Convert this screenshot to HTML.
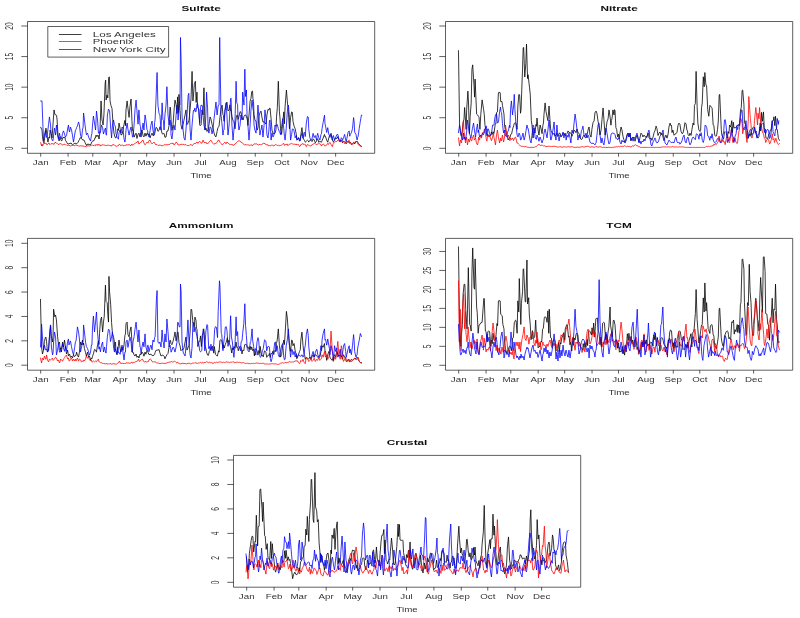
<!DOCTYPE html><html><head><meta charset="utf-8"><style>html,body{margin:0;padding:0;background:#fff;}svg{display:block;}text{font-family:"Liberation Sans",sans-serif;}</style></head><body>
<svg width="800" height="618" viewBox="0 0 800 618">
<rect width="800" height="618" fill="#fff"/>
<defs><filter id="bl" x="0" y="0" width="800" height="618" filterUnits="userSpaceOnUse"><feGaussianBlur stdDeviation="0.3"/></filter></defs>
<g filter="url(#bl)">
<g transform="scale(0.75 0.5)" fill="none" stroke-linejoin="round" stroke-linecap="round">
<path d="M54.25 254.4 L56 260.08 L56.62 272.31 L57.46 281.96 L58.63 285.9 L60.09 270.15 L61.25 256.15 L62.71 270.15 L63.88 284.15 L65.34 274.08 L66.04 276.13 L66.79 260.08 L67.96 266.21 L69.42 275.83 L70.59 250.02 L72.04 219.83 L73.21 229.06 L74.67 229.89 L75.46 230.89 L76.13 239.96 L77.3 270.15 L78.75 281.96 L79.92 274.08 L81.38 280.96 L82.55 281.42 L84 274.66 L85.46 275.34 L86.63 274.08 L87.23 280.74 L88.09 282.17 L89.25 285.68 L90.71 288.39 L91.88 287.21 L93.34 287.13 L94.8 285.9 L95.96 288.69 L96.65 289.38 L97.42 288.47 L98.59 287.85 L100.05 285.9 L101.21 287.61 L102.67 287.2 L104.13 284.42 L105.3 280.71 L106.07 279.02 L106.76 275.48 L107.92 275.83 L109.38 279.02 L110.55 279.64 L112.01 280.05 L113.47 285.26 L114.63 288.93 L115.49 291.28 L116.09 288.09 L117.26 289.05 L118.72 288.09 L119.88 290.2 L121.34 287.94 L122.8 282.93 L123.97 281.75 L125.42 281.25 L126.59 275.76 L127.26 275.97 L128.05 270.15 L129.22 273.38 L130.68 270.15 L132.13 278.02 L133.3 260.08 L134.76 201.89 L135.93 239.96 L136.68 243.64 L137.38 250.02 L138.55 229.89 L140.21 166.29 L140.88 160.32 L141.47 200.14 L142.63 190.17 L143.74 195.9 L144.92 154.76 L145.84 153.76 L146.72 201.88 L147.89 210.77 L149.34 217.02 L150.8 249.02 L151.97 266.27 L153.43 274.97 L154.59 275.99 L156.05 268.39 L157.22 257.58 L157.87 260.89 L158.68 246.08 L160.14 256.87 L161.3 269.97 L162.76 268.99 L163.93 260.89 L165.39 248.46 L166.55 240.75 L167.29 251.39 L168.01 219.98 L169.47 201.89 L170.64 216.95 L172.1 234.83 L173.26 213.55 L174.72 197.95 L175.89 240.59 L176.71 260.8 L177.35 260 L178.8 274.21 L179.97 269.92 L181.43 266.21 L182.6 276.85 L184.06 268.92 L185.22 266.21 L186.68 273.75 L187.31 267.21 L188.14 265.87 L189.31 260.08 L190.76 271.25 L191.93 273.82 L193.39 266.21 L194.56 272.36 L196.01 266.21 L196.72 267.21 L197.47 269.87 L198.64 267.96 L200.1 275.67 L201.27 270.58 L202.72 266.21 L203.89 271.1 L205.35 270.73 L206.14 267.21 L206.81 263.54 L207.97 254.72 L209.43 256.15 L210.6 262.65 L212.06 260.78 L213.22 253.49 L214.68 257.9 L216.14 267.33 L217.31 268.18 L217.92 267.21 L218.77 266.9 L219.93 274.77 L221.39 273.99 L222.56 262.16 L224.02 261.85 L225.48 250.26 L226.64 214.14 L227.33 215.14 L228.1 240.04 L229.27 260.86 L230.73 248.91 L231.89 223.93 L233.35 200.14 L234.81 209.33 L235.98 227.35 L236.75 193.79 L237.93 225.45 L238.6 188.76 L240.06 220.48 L241.23 249.29 L242.69 258.49 L244.14 248.68 L245.31 240.44 L246.77 229.52 L247.94 219.83 L249.39 249.3 L250.56 246.58 L252.02 240.42 L253.48 218.17 L254.65 197.25 L256.1 142.82 L257.27 201.98 L258.44 182.05 L259.12 168.57 L260.48 162.51 L261.48 204.83 L262.65 184.21 L263.4 215.07 L265.01 218.15 L266.31 250.48 L267.36 251.02 L268.13 249.78 L269.29 219.83 L270.75 229.89 L271.92 175.64 L273.38 260.08 L274.54 256.15 L276 262.94 L276.78 261.08 L277.46 261.06 L278.63 249.87 L280.08 233.83 L281.25 238.23 L282.71 248.65 L283.88 255.81 L285.34 265.83 L286.79 272.31 L287.96 273.7 L289.42 263.11 L290.59 254.96 L292.04 252.91 L293.21 235.46 L294.67 217.96 L296.13 210.2 L297.29 229.47 L297.97 230.89 L298.75 242.54 L299.92 222.64 L301.38 211.09 L302.55 204.08 L304 221.83 L305.46 219.94 L306.63 209.77 L307.39 220.83 L308.09 219.83 L309.25 233.2 L310.71 241.37 L311.88 243.08 L313.34 257.71 L314.8 236.21 L315.96 229.89 L316.81 230.89 L317.42 238.87 L318.59 233.59 L320.05 223.19 L321.21 224.2 L322.67 234.97 L324.13 239.97 L325.3 232.62 L326.76 229.89 L327.92 230.35 L328.59 234.83 L329.38 234.51 L330.55 251.02 L332.01 230.12 L333.46 202.42 L334.63 196.75 L335.65 183.2 L336.67 182.2 L337.26 197.05 L338 203.02 L338.72 229.38 L339.88 239.43 L341.34 243.3 L342.8 260.28 L343.97 256.01 L345.42 231.21 L346.59 225.82 L347.42 223.02 L348.05 222.02 L349.22 234.29 L350.67 244.26 L352.13 243.6 L353.3 245.54 L354.76 248.23 L355.93 229.75 L357.38 218.51 L358.55 220.1 L359.2 216.89 L360.01 215.89 L361.47 237.74 L362.63 260.17 L364.09 267.35 L365.26 267.34 L366.72 266.26 L367.88 260.08 L368.76 232.52 L369.79 215.18 L371.09 162.51 L372.55 223.77 L373.32 235.9 L374.01 257.46 L375.47 268.83 L376.93 246.08 L378.39 223.77 L379.21 247.58 L380.14 212.63 L381.89 180.01 L383.05 201.45 L384.51 223.77 L385.97 257.46 L387.43 235.14 L388.89 223.77 L389.81 224.77 L390.64 242.52 L392.1 252.33 L393.55 257.63 L395.01 268.32 L395.69 276.94 L396.47 280.03 L397.93 275.4 L399.39 282.4 L400.4 278.41 L401.14 268.83 L402.6 255.27 L404.05 275.4 L405.51 280.21 L406.29 281.21 L406.97 284.36 L408.43 282.32 L409.89 280.21 L411 281.61 L411.64 284.15 L413.1 280.65 L414.56 280.21 L416.01 283.19 L417.47 277.58 L418.93 279.96 L420.39 285.58 L422.14 282.09 L422.77 278.58 L423.6 277.58 L425.06 284.79 L426.51 282.4 L427.97 284.19 L428.66 284.4 L429.43 281.38 L430.89 275.97 L432.64 268.83 L433.37 273.92 L434.1 273.23 L435.56 280.28 L437.02 284.42 L438.47 275.41 L439.25 272.02 L439.93 271.02 L441.39 266.65 L443.14 280.21 L443.96 282.17 L444.6 284.59 L446.06 279.44 L447.52 275.4 L448.98 277.89 L450.43 273.21 L451.89 279.52 L453.64 283.55 L455.1 280.21 L455.74 281.21 L456.56 285.64 L458.02 282.4 L459.48 283.51 L460.93 285.65 L461.62 287.52 L462.39 285.21 L464.14 282.4 L465.6 286.43 L466.33 285.85 L467.06 284.59 L468.52 289.2 L469.98 286.82 L471.44 284.59 L472.22 285.59 L472.89 287.82 L474.64 283.63 L476.1 282.4 L476.93 283.4 L477.56 286.96 L479.02 288.26 L480.48 291.04 L481.94 292.75" stroke="#000000" stroke-width="1.25"/>
<path d="M54.25 285.02 L55.42 292.02 L56 288.09 L56.62 292.18 L57.46 289.84 L58.63 285.9 L60.09 287.63 L61.25 285.9 L62.71 289.86 L63.88 287.56 L65.34 285.9 L66.04 288.72 L66.79 289.27 L67.96 287.21 L69.42 287.72 L70.59 287.21 L72.04 288.82 L73.21 284.99 L74.67 285.02 L75.46 286.64 L76.13 286.53 L77.3 288.9 L78.75 288.66 L79.92 287.21 L81.38 287.47 L82.55 289.21 L84 290.44 L85.46 288.09 L86.63 288.93 L87.23 289.96 L88.09 288.96 L89.59 291.31 L90.71 289.9 L91.94 290.99 L93.34 291.26 L94.3 292.26 L95.96 289.84 L96.65 290.84 L97.83 290.84 L98.59 291.99 L100.18 290.84 L101.21 289.84 L102.54 290.84 L104.13 291.18 L104.89 292.15 L106.07 292.15 L106.76 291.34 L108.42 292.28 L109.38 291.15 L110.78 292.76 L112.01 291.76 L113.13 293.51 L114.63 293.06 L115.49 293.68 L117.26 291.15 L119.02 292.15 L119.88 292.1 L121.37 290.84 L122.8 289.84 L123.73 290.84 L125.42 291.22 L126.08 289.96 L127.26 291.69 L128.05 288.7 L129.62 291.13 L130.68 288.09 L131.97 290.85 L133.3 289.21 L134.33 292.24 L135.93 288.96 L136.68 289.96 L137.86 289.96 L138.55 289.72 L140.21 290.84 L141.47 291.04 L142.57 290.84 L144.09 289.84 L144.92 290.84 L146.1 290.95 L146.72 290.85 L148.45 292.29 L149.34 289.9 L150.81 289.96 L151.97 288.96 L153.16 291.29 L154.59 291.93 L155.52 292.82 L157.22 291.21 L157.87 291.35 L159.26 288.09 L160.72 291.25 L161.4 290.84 L162.76 289.84 L163.76 290.84 L165.39 291.82 L166.11 290.84 L167.29 291.19 L168.01 289.12 L169.65 290.3 L170.64 288.96 L172 289.96 L173.26 289.69 L174.35 291.71 L175.89 287.87 L176.71 290.55 L177.89 289.09 L178.8 288 L180.24 286.9 L181.43 285.13 L182.6 285.09 L184.06 281.96 L185.22 288.17 L186.68 285.83 L187.31 285.15 L188.14 285 L189.31 281.41 L190.76 280.21 L191.93 286.08 L193.39 289.7 L194.56 287.73 L196.01 284.15 L196.72 285.15 L197.47 286.13 L198.64 281.02 L200.1 280.21 L201.27 284.73 L202.72 287.79 L203.89 285.82 L205.35 284.15 L206.14 285.15 L206.81 288.23 L207.97 289.6 L209.43 288.96 L210.6 290.71 L212.06 290.95 L213.22 289.84 L214.38 290.84 L216.14 291.61 L217.92 290.84 L218.77 289.41 L220.27 289.96 L221.39 288.96 L222.63 289.96 L224.02 289.04 L224.98 289.09 L226.64 288.61 L227.33 287.05 L228.1 285.9 L229.27 287.64 L230.73 285.9 L231.89 289.75 L233.35 288.22 L234.81 284.15 L235.98 286.04 L236.75 287.11 L237.44 290.03 L239.11 289.96 L240.06 288.8 L241.46 289.09 L242.69 288.09 L243.82 289.09 L245.31 288.72 L246.17 289.96 L247.94 288.96 L249.7 291.72 L250.56 290.76 L252.06 291.35 L253.48 288.96 L254.41 289.96 L256.1 289.79 L256.77 291.14 L257.95 288.21 L258.73 286.88 L260.3 286.9 L261.35 286.52 L262.65 283.84 L263.83 286.62 L265.01 283.84 L266.31 282.84 L267.36 283.84 L268.54 286.95 L269.29 286.01 L270.75 280.21 L271.92 284.45 L273.38 285.76 L274.54 284.15 L276 288.04 L276.78 286.9 L277.46 286.23 L278.63 284.79 L280.08 281.84 L281.25 280.21 L282.71 284.23 L283.88 286.63 L285.34 288.83 L286.2 286.9 L287.96 286.78 L289.42 284.73 L290.59 280.94 L292.04 280.21 L293.21 284.63 L294.67 287.34 L296.13 289.19 L297.29 288.99 L297.97 286.9 L298.75 285.71 L299.92 284.15 L301.38 287.72 L302.55 284.15 L304 285.49 L305.46 288.24 L306.63 289.22 L307.39 289.09 L308.57 289.09 L309.25 288.09 L310.93 291.38 L311.88 289.06 L313.28 288.59 L314.8 285.85 L315.96 284.33 L316.81 282.96 L317.42 281.96 L318.59 281.8 L320.05 281.96 L321.21 284.61 L322.67 284.72 L324.13 287.69 L325.3 289.02 L326.23 289.96 L327.92 288.7 L328.59 289.96 L329.76 289.96 L330.55 288.96 L332.12 291.04 L333.46 289.48 L334.47 290.82 L336.09 289.51 L336.83 291.54 L338 289.09 L338.72 287.64 L340.36 288.21 L341.34 287.21 L342.71 288.21 L343.97 289.68 L345.07 289.96 L346.59 288.42 L347.42 289.09 L348.6 289.09 L349.22 288.4 L350.95 287.05 L352.13 285.9 L353.31 288.27 L354.76 288.31 L355.66 290.01 L357.38 289.62 L358.02 291.63 L359.2 290.84 L360.01 292.12 L361.55 290.84 L362.63 289.84 L363.91 290.84 L365.26 292.13 L366.26 289.96 L367.88 288.96 L368.61 289.96 L369.79 290.91 L371.09 290.36 L372.15 291.34 L373.32 291.27 L374.01 291 L375.68 289.96 L376.93 288.1 L378.39 286.77 L379.21 291.01 L380.14 289.03 L381.57 289.09 L383.05 288.09 L383.92 291.37 L385.1 289.09 L385.97 288.52 L387.45 287.77 L388.89 286.77 L389.81 287.77 L390.98 288.48 L392.1 287.82 L393.34 289.24 L395.01 288.09 L395.69 289.94 L396.87 289.09 L397.93 288.96 L399.39 293.34 L400.4 292.11 L401.14 288.96 L402.76 288.4 L404.05 286.77 L405.11 289.54 L406.29 287.77 L406.97 288.96 L408.43 293.34 L409.89 288.96 L411 289.96 L412.18 291.46 L413.1 291.15 L414.53 292.3 L416.01 288.89 L416.89 288.83 L418.06 287.77 L418.93 286.77 L420.42 287.77 L422.14 289.21 L422.77 287.77 L423.95 288.79 L425.06 286.77 L426.3 287.8 L427.97 289.09 L428.66 292.15 L429.84 289.09 L430.89 288.09 L432.19 289.09 L433.37 292.32 L434.1 291.15 L435.72 290.04 L437.02 286.77 L438.08 288.93 L439.25 285.59 L439.93 284.59 L441.39 288.96 L443.14 293.34 L443.96 288.08 L444.6 286.77 L446.06 284.59 L447.52 282.4 L448.98 283.22 L450.43 280.21 L451.89 282.54 L453.64 283.76 L455.1 280.21 L455.74 281.21 L456.56 284.92 L458.02 282.4 L459.48 287.38 L460.93 284.59 L461.62 287.3 L462.39 285.91 L464.14 282.24 L465.6 280.21 L466.33 286.38 L467.06 284.71 L468.52 286.34 L469.98 288.99 L471.44 287.22 L472.22 285.59 L472.89 284.52 L474.64 282.4 L476.1 284.71 L476.93 285.59 L477.56 289.3 L479.02 291.11 L480.48 292.52 L481.94 292.46" stroke="#ff0000" stroke-width="1.25"/>
<path d="M54.25 201.89 L56 201.89 L57.17 250.02 L58.04 281.96 L59.21 270.15 L60.67 260.08 L61.33 270.47 L62.13 274.77 L63.29 266.91 L64.75 248.85 L65.92 233.83 L67.38 250.02 L68.54 275.83 L70 281.96 L70.75 280.7 L71.46 270.11 L72.63 256.15 L74.09 270.2 L75.25 250.02 L76.71 270.18 L77.88 278.22 L79.34 266.21 L80.17 274.05 L80.8 273.26 L81.96 277.47 L83.42 266.77 L84.59 261.83 L86.05 267.88 L87.21 273.92 L88.67 271.23 L90.13 257.94 L91.3 250.02 L91.94 259.84 L92.76 264.12 L93.92 253.96 L95.38 260.08 L96.55 270.15 L98.01 284.15 L99.46 270.15 L100.63 260.08 L101.36 258.9 L102.09 255.1 L103.26 251.83 L104.71 243.89 L105.88 249.95 L107.34 269.98 L108.8 275.83 L109.97 260.08 L110.78 254.34 L111.42 225.95 L112.59 239.96 L114.05 258.06 L115.22 269.51 L116.67 266.21 L118.13 274.1 L119.3 278 L120.76 281.94 L121.92 270.17 L122.55 267.2 L123.38 250.05 L124.55 232.08 L126.01 246.08 L127.47 260.08 L128.63 222.02 L130.09 239.96 L131.26 266.21 L131.97 266.51 L132.72 264.02 L133.88 265.61 L135.34 250.02 L136.8 255.47 L137.97 268.09 L139.43 260.46 L140.59 256.15 L141.39 269.64 L142.05 270.15 L143.22 229.89 L144.68 218.08 L146.14 222.02 L147.3 250.02 L148.76 275.83 L149.93 250.02 L151.39 239.96 L152.55 249.69 L153.16 251.02 L154.01 253.9 L154.59 266.37 L156.05 274.37 L157.22 277.46 L157.87 278.34 L158.68 265.95 L160.14 260.08 L161.3 266.19 L162.76 253.96 L163.93 256.15 L165.39 278.02 L166.55 284.15 L167.29 275.82 L168.01 260.08 L169.47 246.08 L170.64 258.86 L172.1 270.16 L173.26 261.39 L174.72 253.96 L175.89 266.21 L176.71 274.01 L177.35 274.08 L178.8 250.02 L179.97 219.83 L181.43 200.14 L182.6 221.42 L184.06 248.33 L185.22 219.83 L186.68 250.02 L187.31 253.12 L188.14 274.08 L189.31 260.08 L190.76 246.08 L191.93 260.08 L193.39 229.89 L194.56 239.96 L196.01 259.88 L196.72 261.08 L197.47 269.22 L198.64 274 L200.1 261.39 L201.27 250.34 L202.72 242.14 L203.89 260.08 L205.35 270.15 L206.14 245.28 L206.81 239.96 L207.97 200.14 L209.43 145.01 L210.6 210.2 L212.03 226.81 L213.22 229.89 L214.68 260.08 L216.14 205.83 L217.31 239.96 L217.92 240.96 L218.77 260.08 L219.93 229.89 L221.39 210.2 L222.56 173.45 L224.02 229.89 L225.48 250.02 L226.64 239.96 L227.33 242.93 L228.1 270.15 L229.27 278.02 L230.73 260.08 L231.89 250.02 L233.35 260.08 L234.81 229.89 L235.98 210.2 L236.75 212.18 L237.44 239.96 L239.11 211.2 L240.06 210.2 L240.64 75 L241.46 119.76 L242.69 229.89 L244.14 260.08 L245.31 275.83 L246.77 280.21 L247.94 260.08 L249.39 229.89 L250.88 190.24 L251.73 186.58 L253.48 260.08 L254.65 280.21 L256.1 250.02 L257.27 229.89 L257.95 220.83 L258.73 222.27 L259.9 215.89 L260.48 223.49 L261.48 223.07 L262.65 207.27 L263.4 206.27 L265.01 221.26 L266.31 245.45 L267.36 214.92 L268.13 210.2 L269.72 211.2 L270.75 230.8 L271.92 250.02 L273.38 260.08 L274.54 229.89 L275.42 184.39 L276 200.14 L276.78 215.85 L277.46 260.08 L278.63 266.21 L280.08 253.96 L281.25 254.93 L282.71 267.64 L283.88 260.14 L285.34 237.82 L286.79 218.99 L287.96 204.08 L289.42 229.89 L290.91 211.2 L292.04 210.2 L292.92 75 L294.67 229.89 L296.13 250.02 L297.29 270.15 L297.97 261.08 L298.75 260.08 L299.92 219.83 L301.38 205.83 L302.55 229.89 L304 270.15 L305.46 250.02 L306.63 219.83 L307.39 197.2 L308.09 196.2 L309.25 250.02 L310.71 280.21 L311.88 260.08 L313.34 239.96 L314.8 162.51 L315.63 204.78 L316.81 209.58 L317.42 239.96 L318.59 260.08 L320.05 250.82 L321.21 229.89 L322.67 239.96 L323.55 184.39 L325.3 210.2 L326.46 138.45 L327.41 193.05 L328.59 179.97 L329.38 229.89 L330.55 250.02 L332.01 280.21 L333.46 250.02 L334.63 219.83 L336.09 200.14 L337.26 217.43 L338 222.93 L338.72 250.04 L339.88 260.08 L341.34 266.21 L342.8 239.96 L343.97 210.2 L345.42 239.96 L346.59 270.15 L347.42 261.08 L348.05 260.08 L349.22 250.02 L350.67 274.08 L352.13 250.02 L353.3 219.83 L354.76 239.96 L355.93 270.15 L357.38 275.83 L358.55 260.08 L359.2 241.82 L360.01 239.96 L361.47 280.21 L362.63 266.21 L364.09 274.08 L365.26 270.16 L366.72 250.02 L367.88 252.95 L368.61 249.71 L369.63 248.71 L371.09 257.78 L372.55 263.78 L373.32 265.46 L374.01 269.42 L375.47 253.18 L376.93 237.33 L378.39 257.46 L379.21 272.37 L380.14 280.21 L381.59 257.46 L383.05 223.77 L384.51 210.2 L385.97 235.14 L387.43 280.21 L388.89 268.83 L389.81 258.46 L390.64 257.46 L392.1 261.82 L393.55 275.7 L395.01 271.02 L395.69 280.48 L396.47 279.33 L397.93 275.4 L399.39 277.79 L400.4 281.11 L401.14 273.29 L402.6 266.65 L404.05 276.54 L405.51 264.46 L406.29 265.46 L406.97 273.21 L408.43 246.08 L409.89 232.96 L411 234.19 L411.64 257.46 L413.1 275.4 L414.56 280.21 L416.01 276.9 L417.47 266.65 L418.93 275.13 L420.39 271.02 L422.14 280.21 L422.77 271.46 L423.6 266.65 L425.06 275.4 L426.51 280.19 L427.97 268.98 L428.66 266.76 L429.43 256.8 L430.89 244.82 L432.64 230.33 L433.37 247.79 L434.1 252.05 L435.56 264.95 L437.02 255.27 L438.47 269.48 L439.25 269.83 L439.93 274.88 L441.39 268.83 L443.14 280.17 L443.96 272.02 L444.6 271.02 L446.06 280.65 L447.52 275.54 L448.98 269.3 L450.43 268.83 L451.89 278.12 L453.64 282.61 L455.1 275.4 L455.74 276.4 L456.56 280.7 L458.02 275.46 L459.48 268.83 L460.93 280.17 L461.62 283.97 L462.39 277.76 L464.14 264.4 L465.6 261.83 L466.33 272.46 L467.06 269.23 L468.52 265.39 L469.98 257.46 L471.44 235.14 L472.22 244.1 L472.89 264.46 L474.64 268.83 L476.1 280.03 L476.93 274.21 L477.56 272.54 L479.02 256.61 L480.48 242.2 L481.94 230.11 L482.52 230.33" stroke="#0000ff" stroke-width="1.25"/>
<path d="M36.67 43 L499.6 43 L499.6 306.6 L36.67 306.6 Z M54.27 306.6 L54.27 313.4 M90.76 306.6 L90.76 313.4 M123.73 306.6 L123.73 313.4 M160.23 306.6 L160.23 313.4 M195.55 306.6 L195.55 313.4 M232.04 306.6 L232.04 313.4 M267.36 306.6 L267.36 313.4 M303.86 306.6 L303.86 313.4 M340.36 306.6 L340.36 313.4 M375.68 306.6 L375.68 313.4 M412.18 306.6 L412.18 313.4 M447.5 306.6 L447.5 313.4 M36.67 296.6 L28.4 296.6 M36.67 235.45 L28.4 235.45 M36.67 174.3 L28.4 174.3 M36.67 113.15 L28.4 113.15 M36.67 52 L28.4 52" stroke="#000" stroke-width="1.0" stroke-linecap="butt" stroke-linejoin="miter"/>
<path d="M611.29 101.26 L612.75 250.02 L613.95 265.74 L615.09 271.9 L616.31 263.25 L617.42 245.64 L618.66 238.22 L619.46 215.02 L621.5 258.77 L622.2 220.12 L623.84 182.2 L624.55 200.07 L625.88 267.52 L626.91 232.61 L628.21 206.27 L629.26 138.54 L630.25 129.7 L632 171.26 L632.79 194.31 L633.46 158.14 L635.5 228.14 L636.32 229.14 L637.84 232.52 L638.68 233.52 L639.88 258.77 L641.03 229.49 L642.8 199.7 L644.84 219.39 L645.74 229.7 L646.59 249.51 L648.63 267.57 L649.27 268.83 L650.45 268.52 L651.55 271.44 L652.81 272.9 L654.46 271.09 L655.16 264.15 L656.34 268.78 L657.38 263.37 L658.69 266.56 L660.3 248.17 L661.05 248.03 L662.23 224.77 L663.21 223.83 L664.58 185.39 L665.26 184.39 L666.93 185.39 L667.59 203.15 L669.29 202.89 L669.92 210.63 L671.97 228.1 L672.82 252.45 L674.01 258.83 L675.18 268.97 L676.34 271.88 L677.53 280.02 L679.26 275.48 L679.89 275.7 L681.06 268.52 L682.17 267.78 L683.42 258.28 L685.09 250.52 L685.77 246.64 L687.43 245.64 L688.13 246.64 L689.47 258.77 L690.48 212.04 L691.8 188.76 L692.84 189.76 L694.01 226.49 L694.72 219.39 L696.76 136.26 L697.55 95.69 L698.22 94.69 L699.68 154.11 L701.08 127 L702.01 88.13 L703.43 157.13 L704.05 149.39 L706.09 175.64 L706.96 188.32 L708.43 241.27 L709.32 250.17 L710.76 276.27 L711.93 256.15 L713.39 266.21 L714.55 249.14 L715.21 252.36 L716.01 236.02 L717.47 260.4 L718.64 270.12 L720.1 250.02 L721.26 256.1 L722.72 267.26 L723.89 250.47 L724.62 246.13 L725.35 228.45 L726.8 205.83 L727.97 222.58 L729.43 233.74 L730.6 241.31 L732.05 211.95 L733.22 238.72 L734.04 256.56 L734.68 260.98 L736.14 266.62 L737.31 268.96 L738.76 266.21 L739.93 272.39 L741.39 270.1 L742.56 266.21 L744.01 272.93 L744.64 271.15 L745.47 266.69 L746.64 266.21 L748.1 272.99 L749.26 271.22 L750.72 267.13 L751.89 266.21 L753.35 271.3 L754.06 271.15 L754.81 269.02 L755.97 267.19 L757.43 261.83 L758.6 265.06 L760.06 265.19 L761.22 266.21 L762.68 272.54 L763.48 268.96 L764.14 268.07 L765.31 260.84 L766.77 261.83 L767.93 265.46 L769.39 257.9 L770.56 264.92 L772.02 266.58 L773.48 275.16 L774.64 278.92 L775.25 279.02 L776.1 278.26 L777.27 273.58 L778.73 270.15 L779.89 274.68 L781.35 275.83 L782.81 269.45 L783.98 260.87 L784.67 256.04 L785.43 253.96 L786.6 269.3 L788.06 274.22 L789.23 258.29 L790.69 245.25 L792.14 241.78 L793.31 225.67 L794.09 223.02 L794.77 222.02 L795.94 226.91 L797.39 242.38 L798.56 250.49 L800.02 270.07 L801.48 259.61 L802.64 238.97 L804.1 215.89 L805.27 239.96 L806.73 270.15 L807.89 260.08 L809.35 243.54 L810.81 237.31 L811.98 219.83 L813.44 234.18 L814.6 250.4 L815.28 240.96 L816.06 236.45 L817.23 219.83 L818.69 229.89 L819.27 219.39 L819.99 220.39 L821.17 255.14 L822.19 258.77 L823.52 273.8 L824.7 268.4 L825.46 278.02 L826.63 266.21 L828.08 253.96 L829.25 259.91 L830.71 273.38 L831.88 279.5 L833.33 284.44 L834.12 279.02 L834.79 277.22 L835.96 269.33 L837.42 266.21 L838.58 274.08 L840.04 266.21 L841.21 281.96 L842.67 275.83 L844.13 274.08 L845.29 277.15 L846.75 282.49 L847.92 275.89 L849.38 270.15 L850.54 275.82 L852 284.16 L853.46 274.12 L854.63 266.21 L855.31 267.21 L856.09 269.06 L857.25 273.89 L858.71 270.15 L859.88 273.02 L861.34 274.16 L862.8 271.65 L863.96 266.21 L864.73 268.28 L865.42 275.72 L866.59 277.78 L868.05 275.83 L869.21 280.92 L870.67 274.4 L872.13 265.31 L873.3 261.6 L874.15 255.51 L874.75 252.21 L875.92 257.14 L877.38 271 L878.55 266.45 L880.01 264.02 L881.46 270.01 L882.63 266.21 L884.09 274.34 L885.26 281.28 L885.92 276.83 L886.71 274.3 L887.88 270.15 L889.34 276.31 L890.8 268.08 L891.96 253.79 L893.42 246.08 L894.59 251.81 L895.34 251.02 L896.05 265.1 L897.22 260.08 L898.67 270.53 L900.13 268.23 L901.3 267.51 L902.76 264.27 L903.92 251.53 L904.76 247.08 L905.38 246.08 L906.55 248.39 L908.01 262.85 L909.47 267.38 L910.63 266.24 L912.09 256.37 L913.26 245.38 L914.72 247.83 L915.88 260.68 L916.53 261.08 L917.34 268.96 L918.8 271.7 L919.97 266.21 L921.43 270.87 L922.59 259.18 L924.05 246.08 L925.22 250.02 L925.95 210.81 L927.13 206.82 L928.13 142.82 L929.48 212.9 L930.47 245.64 L931.83 259.78 L933.39 263.15 L934.19 260.67 L935.37 215.36 L936.3 206.27 L937.72 153.54 L938.9 173.58 L939.8 145.01 L941.25 170.74 L942.14 171.26 L943.61 219.62 L945.05 232.52 L946.51 210.64 L947.14 211.64 L948.85 215.02 L949.49 216.02 L950.89 250.02 L951.85 251.02 L953.03 270.99 L953.8 271.9 L955.38 271.71 L956.72 258.77 L957.74 242.02 L958.91 189.76 L959.64 188.76 L961.68 258.77 L962.45 270.03 L964.01 276.27 L964.8 277.74 L965.98 264.15 L966.93 263.15 L968.33 265.31 L969.85 276.27 L970.69 263.16 L971.86 266.86 L972.76 250.02 L974.22 254.28 L975.68 241.27 L976.57 265.39 L977.75 244.31 L978.6 255.69 L980.11 255.4 L981.51 255.44 L982.46 251.02 L983.64 251.02 L984.43 248.95 L985.99 251.58 L987.35 219.39 L988.35 215.32 L989.52 181.01 L990.27 180.01 L991.88 208.89 L992.6 245.64 L994.23 249.18 L995.41 275.51 L996.1 276.27 L997.77 276.39 L999.02 267.52 L1000.12 272.73 L1001.3 264.15 L1001.93 262.48 L1003.65 255.4 L1004.85 254.4 L1006.01 255.4 L1007.77 267.52 L1009.54 274.4 L1010.68 276.27 L1011.89 273.42 L1013.6 245.64 L1014.25 262.07 L1015.43 224.77 L1016.6 242.61 L1017.98 223.77 L1018.96 255.44 L1020.02 258.77 L1021.31 276.42 L1022.35 276.27 L1023.67 277.7 L1025.27 267.52 L1026.02 267.64 L1027.2 259.77 L1028.19 259.15 L1029.55 242.27 L1031.1 241.26 L1031.91 233.52 L1033.09 251.44 L1034.02 232.52 L1035.44 259 L1036.35 258.77 L1037.79 276.35 L1039.27 280.65" stroke="#000000" stroke-width="1.25"/>
<path d="M611.29 275.83 L612.75 292.02 L613.92 280.21 L615.38 285.9 L616.54 260.08 L618 239.96 L618.66 263.14 L619.46 270.15 L620.63 285.9 L622.09 274.08 L623.25 289.84 L624.71 278.02 L625.88 284.15 L627.34 274.08 L628.08 280.96 L628.79 281.94 L629.96 276.14 L631.42 270.15 L632.59 280.21 L634.05 275.83 L635.21 285.9 L636.67 289.84 L637.5 284.6 L638.13 274.08 L639.3 280.21 L640.75 270.15 L641.92 276.26 L643.38 265.23 L644.55 265.82 L646 257.9 L647.46 269.38 L648.63 280.44 L649.27 282.28 L650.09 270.15 L651.26 273.85 L652.71 270.15 L653.88 275.78 L655.34 281.46 L656.8 274.08 L657.96 266.21 L658.69 275.43 L659.42 280.21 L660.59 289.84 L662.05 270.15 L663.21 260.08 L664.67 275.83 L666.13 285.9 L667.3 275.83 L668.11 282.06 L668.76 280.21 L669.92 270.15 L671.38 284.15 L672.55 275.83 L674.01 250.02 L675.47 266.21 L676.63 274.25 L678.09 270.15 L679.26 277.17 L679.89 281.57 L680.72 275.81 L681.88 279.42 L683.34 275.83 L684.8 281.16 L685.97 275.79 L687.43 274.08 L688.59 280.7 L689.3 286.17 L690.05 285.89 L691.22 287.87 L692.68 289.79 L694.13 292.23 L695.19 293.02 L695.88 292.02 L697.55 293.02 L698.8 293.11 L699.9 293.9 L701.43 292.9 L702.25 293.9 L703.43 294.44 L704.05 294.25 L705.79 295.21 L706.68 294.21 L708.14 295.21 L709.3 294.21 L710.5 295.21 L711.93 294.21 L712.85 294.63 L714.55 292.9 L715.21 293.19 L716.38 290.84 L717.47 289.84 L718.64 288.09 L720.1 291.19 L721.09 290.84 L722.72 289.84 L723.45 290.84 L724.62 291.88 L725.35 290.93 L726.98 292.73 L727.97 292.65 L729.33 293.4 L730.6 292.17 L731.69 293.02 L733.22 292.02 L734.04 293.02 L735.22 293.02 L736.14 292.61 L737.57 293.02 L738.76 292.02 L739.93 293.02 L741.39 292.91 L742.28 293.9 L744.01 294.18 L744.64 293.9 L745.82 294 L746.64 292.9 L748.17 294.17 L749.26 294.2 L750.53 294.38 L751.89 292.9 L752.88 293.9 L754.06 293.9 L754.81 294.15 L756.41 293.9 L757.43 292.9 L758.77 293.9 L760.06 294.04 L761.12 293.9 L762.68 292.9 L763.48 293.9 L764.65 294.44 L765.31 294.19 L767.01 295.21 L767.93 294.07 L769.36 294.84 L770.56 293.77 L771.72 294.77 L773.48 294.19 L775.25 293.9 L776.1 292.9 L777.6 293.9 L778.73 294.26 L779.96 293.9 L781.35 292.9 L782.31 293.02 L783.98 292.02 L784.67 293.02 L785.85 293.87 L786.6 294.21 L788.2 294.16 L789.23 292.9 L790.55 294.23 L792.14 294.12 L792.91 294.57 L794.09 293.9 L794.77 292.9 L796.44 293.9 L797.39 294.32 L798.8 293.9 L800.02 292.9 L801.15 293.9 L802.64 294.27 L803.51 295.21 L805.27 294.21 L807.04 295.21 L807.89 294.21 L809.39 295.45 L810.81 294.21 L811.75 295.24 L813.44 294.21 L814.1 295.21 L815.28 295.21 L816.06 294.21 L817.63 295.21 L818.69 294.21 L819.99 293.68 L821.17 294.24 L822.34 292.98 L823.52 293.85 L824.7 292.62 L825.87 293.5 L827.05 292.59 L828.23 292.84 L829.41 292.59 L830.58 292.8 L831.76 292.59 L832.75 291.59 L834.12 292.59 L835.29 293.41 L836.47 292.59 L837.65 293.23 L838.83 292.59 L840 293.89 L841.5 293.77 L842.36 293.51 L843.53 291.09 L844.71 292.8 L845.89 290.4 L847.34 289.4 L848.24 290.4 L849.42 292.14 L850.6 291.23 L851.78 293.55 L853.17 293.77 L854.13 294.77 L855.31 294.77 L856.49 294.77 L857.66 294.77 L858.84 294.77 L860.02 294.77 L861.19 294.9 L862.37 294.77 L863.55 294.83 L864.73 294.77 L865.9 294.77 L867.08 294.77 L867.75 294.65 L869.44 294.77 L870.61 294.77 L871.79 294.77 L872.97 294.88 L874.15 294.77 L875.32 294.77 L876.5 294.77 L877.68 294.77 L878.85 294.77 L880.03 294.77 L881.21 294.77 L882.34 293.79 L883.56 293.9 L884.74 293.9 L885.92 293.9 L887.1 294.03 L888.27 293.9 L889.45 293.9 L890.63 293.9 L891.81 293.9 L892.98 293.9 L894.16 293.9 L895.34 293.9 L896.92 292.9 L897.69 293.9 L898.87 293.9 L900.05 293.9 L901.22 293.9 L902.4 293.9 L903.58 294.15 L904.76 293.9 L905.93 293.9 L907.11 293.9 L908.29 293.9 L909.47 293.9 L910.64 294.01 L911.51 293.82 L913 294.77 L914.17 294.77 L915.35 294.77 L916.53 294.77 L917.71 294.77 L918.88 294.77 L920.06 294.99 L921.24 294.77 L922.42 294.77 L923.59 294.77 L924.77 294.98 L926.09 294.65 L927.13 295.12 L928.3 294.77 L929.48 295.04 L930.66 294.77 L931.83 294.86 L933.01 294.77 L934.19 294.77 L935.37 294.77 L936.54 294.77 L937.72 294.77 L938.9 294.77 L940.08 294.77 L940.68 293.77 L942.43 292.67 L943.61 293.55 L944.79 292.59 L945.96 293.4 L947.14 292.59 L948.32 292.59 L949.43 291.59 L950.67 291.92 L951.85 288.21 L953.03 289.91 L953.8 287.21 L955.38 288.67 L956.72 285.02 L957.74 282.73 L958.76 271.9 L960.09 281.11 L961.1 285.02 L962.45 284.8 L964.01 278.46 L964.8 284.05 L965.98 283.54 L966.93 289.4 L968.33 277.21 L969.85 271.9 L970.69 272.9 L971.86 285 L972.76 285.02 L974.22 272.48 L975.1 258.77 L977.14 285.02 L977.75 279.91 L978.93 282.22 L980.06 276.27 L981.28 284.78 L982.97 287.21 L983.64 282.31 L984.81 266.23 L985.89 258.77 L987.17 237.89 L987.93 236.89 L989.52 246.88 L990.27 267.52 L991.88 255.4 L993.18 254.4 L994.23 256.34 L995.41 280.45 L996.1 285.02 L997.77 237.82 L998.43 193.14 L1000.47 236.89 L1001.3 248.35 L1002.52 276.27 L1003.65 269.27 L1004.85 267.52 L1006.01 240.98 L1007.77 215.02 L1010.1 250.02 L1010.72 226.38 L1011.89 237.38 L1012.73 215.02 L1014.25 245.42 L1015.06 250.02 L1016.6 264.71 L1017.98 267.52 L1018.96 276.17 L1020.13 277.61 L1020.89 285.02 L1022.49 279.46 L1023.81 278.46 L1024.84 279.46 L1026.02 287.78 L1026.73 287.21 L1028.38 279.5 L1029.64 267.52 L1030.73 279.59 L1031.91 277.06 L1032.56 285.02 L1034.6 276.27 L1035.44 282.14 L1036.94 287.21 L1037.79 289 L1039.27 287.21" stroke="#ff0000" stroke-width="1.25"/>
<path d="M611.29 265.25 L612.75 250.02 L613.92 260.83 L615.38 274.08 L616.54 280.21 L618 266.21 L618.66 278.5 L619.46 274.08 L620.63 280.21 L622.09 266.21 L623.25 239.96 L624.71 256.15 L625.88 266.6 L627.34 272.96 L628.08 275.49 L628.79 266.75 L629.96 256.51 L631.42 246.08 L632.59 260.15 L634.05 274.77 L635.21 259.52 L636.67 247.83 L637.5 265.04 L638.13 259.81 L639.3 273.85 L640.75 270.57 L641.92 272.8 L643.38 266.21 L644.55 269.44 L646 264 L647.46 253.65 L648.63 252.21 L649.27 271.75 L650.09 258.21 L651.26 257.9 L652.71 267.19 L653.88 271.43 L655.34 266.5 L656.8 250.02 L657.96 250.23 L658.69 249.44 L659.42 239.69 L660.59 229.89 L662.05 227.12 L663.21 246.39 L664.67 243.75 L666.13 222.8 L667.3 214.14 L668.11 224.35 L668.76 225.49 L669.92 246.88 L671.38 265.87 L672.55 260.08 L674.01 271.78 L675.47 273.92 L676.63 264.78 L678.09 259.98 L679.26 250.31 L679.89 255.45 L680.72 218.83 L681.88 201.89 L683.34 229.74 L684.8 211.76 L685.68 188.76 L686.55 219.02 L688.01 250.37 L689.47 270.16 L690.63 273.95 L692.09 266.21 L693.26 270.25 L694.01 279.85 L694.72 279.73 L695.88 274.08 L697.34 266.21 L698.8 280.21 L699.97 274.08 L701.43 260.86 L702.59 250.02 L703.43 255.83 L704.05 256.15 L705.22 266.21 L706.68 280.21 L708.14 285.9 L709.3 270.15 L710.76 250.02 L711.93 253.96 L713.39 274.08 L714.55 278.02 L715.21 278.91 L716.01 270.15 L717.47 275.65 L718.64 282.6 L720.1 274.08 L721.26 278.88 L722.72 285.9 L723.89 280.21 L724.62 277.9 L725.35 266.21 L726.8 257.9 L727.97 266.43 L729.43 275.76 L730.6 259.59 L732.05 239.96 L733.22 260.08 L734.04 278.1 L734.68 280.21 L736.14 270.15 L737.31 260.08 L738.76 243.89 L739.93 270.15 L741.39 280.21 L742.56 250.02 L744.01 274.08 L744.64 275.08 L745.47 281.96 L746.64 270.15 L748.1 274.07 L749.26 271.29 L750.72 264.02 L751.89 275.83 L753.35 266.21 L754.06 267.21 L754.81 280.21 L755.97 270.15 L757.43 274.58 L758.6 266.21 L760.06 275.83 L761.22 285.9 L762.68 260.08 L763.48 265.44 L764.14 266.21 L765.31 247.97 L766.77 228.14 L767.93 239.96 L769.39 260.08 L770.56 280.21 L772.02 270.15 L773.48 276.02 L774.64 267.7 L775.25 261.08 L776.1 259.15 L777.27 252.21 L778.73 270.67 L779.89 273.43 L781.35 266.21 L782.81 275.87 L783.98 270.15 L784.67 271.15 L785.43 275.7 L786.6 284.33 L788.06 285.94 L789.23 287.44 L790.69 285.9 L792.14 288.04 L793.31 289.84 L794.09 286.9 L794.77 285.9 L795.94 270.15 L797.39 250.02 L798.56 246.08 L800.02 270.15 L801.48 285.9 L802.64 275.83 L804.1 285.9 L805.27 289.84 L806.73 274.08 L807.89 256.15 L809.35 266.21 L810.81 280.21 L811.98 288.09 L813.44 284.15 L814.6 270.15 L815.28 267.21 L816.06 266.21 L817.23 266.21 L818.69 267.3 L819.27 267.52 L819.99 268.52 L821.17 277.09 L822.19 275.73 L823.52 279.67 L824.7 276.83 L825.46 275.83 L826.63 284.15 L828.08 288.09 L829.25 280.21 L830.71 284.15 L831.88 281.96 L833.33 286.09 L834.12 283.09 L834.79 282.33 L835.96 273.62 L837.42 266.21 L838.58 274.08 L840.04 266.21 L841.21 280.21 L842.67 275.83 L844.13 282.32 L845.29 274.08 L846.75 277.22 L847.92 271.24 L849.38 266.21 L850.54 274.08 L852 285.9 L853.46 281.96 L854.63 288.16 L855.31 283.94 L856.09 281.96 L857.25 283.93 L858.71 278.02 L859.88 282.03 L861.34 274.59 L862.8 274.77 L863.96 266.1 L864.73 261.08 L865.42 260.08 L866.59 275.83 L868.05 289.84 L869.21 292.02 L870.67 284.15 L872.13 280.21 L873.3 275.83 L874.15 278.87 L874.75 284.07 L875.92 285.73 L877.38 284.61 L878.55 280.25 L880.01 272.08 L881.46 269.92 L882.63 266.3 L884.09 260.08 L885.26 275.83 L885.92 276.83 L886.71 285.9 L887.88 288.09 L889.34 289.84 L890.8 284.15 L891.96 280.21 L893.42 282.67 L894.59 285.17 L895.34 285.15 L896.05 285.19 L897.22 284.15 L898.67 285.8 L900.13 278.03 L901.3 274.08 L902.76 284.13 L903.92 285.91 L904.76 285.15 L905.38 284.15 L906.55 288.44 L908.01 286.03 L909.47 280.87 L910.63 274.08 L912.09 270.15 L913.26 281.95 L914.72 285.89 L915.88 278.03 L916.53 275.08 L917.34 274.08 L918.8 284.15 L919.97 289.84 L921.43 285.9 L922.59 278.05 L924.05 274.08 L925.22 275.34 L926.09 277.66 L927.13 279.38 L928.3 268.52 L929.01 267.52 L930.66 270.54 L931.93 278.46 L933.01 267.27 L934.19 271.93 L934.84 265.33 L936.54 281.04 L937.76 285.02 L938.9 277.79 L940.08 251.02 L940.68 250.02 L942.43 255.53 L943.59 271.9 L944.79 272.9 L946.51 280.65 L947.14 272.78 L948.32 276.41 L949.43 267.52 L950.67 278.74 L952.35 285.02 L953.03 285.46 L954.2 283.84 L955.26 282.84 L956.56 277.27 L958.18 276.27 L958.91 277.27 L960.09 285.17 L961.1 285.02 L962.45 279.9 L964.01 267.52 L964.8 266.87 L965.98 240.08 L966.93 239.08 L968.33 254.1 L969.85 285.02 L970.69 279.45 L971.86 281.26 L972.76 276.27 L974.22 270.95 L975.68 254.4 L976.57 272.45 L977.75 273.67 L978.6 285.02 L980.11 272.16 L981.51 267.52 L982.46 252.87 L983.64 259.35 L984.43 250.02 L985.99 250.35 L987.35 232.52 L988.81 219.39 L989.52 220.39 L990.7 255.59 L991.72 258.77 L993.06 258.8 L994.64 241.27 L995.41 257.63 L996.59 261.13 L997.56 276.27 L998.94 264.23 L1000.47 258.77 L1001.3 259.77 L1002.47 270.05 L1003.39 267.52 L1004.83 264.53 L1006.31 254.4 L1007.18 266.09 L1008.36 261.99 L1009.23 276.27 L1010.72 268.52 L1012.14 267.52 L1013.07 254.06 L1014.25 259.09 L1015.06 249.43 L1016.6 248.09 L1017.98 245.64 L1018.96 265.14 L1020.13 257.93 L1020.89 267.52 L1022.49 259.77 L1023.81 258.77 L1024.84 261.9 L1026.02 277.07 L1026.73 276.27 L1028.38 263.83 L1029.64 241.27 L1030.73 263.21 L1031.69 267.52 L1033.09 271.82 L1034.02 258.77 L1035.44 256.76 L1036.35 236.89 L1037.79 248.79 L1038.4 241.45" stroke="#0000ff" stroke-width="1.25"/>
<path d="M594 43 L1056.93 43 L1056.93 306.6 L594 306.6 Z M611.6 306.6 L611.6 313.4 M648.1 306.6 L648.1 313.4 M681.06 306.6 L681.06 313.4 M717.56 306.6 L717.56 313.4 M752.88 306.6 L752.88 313.4 M789.38 306.6 L789.38 313.4 M824.7 306.6 L824.7 313.4 M861.19 306.6 L861.19 313.4 M897.69 306.6 L897.69 313.4 M933.01 306.6 L933.01 313.4 M969.51 306.6 L969.51 313.4 M1004.83 306.6 L1004.83 313.4 M594 296.6 L585.73 296.6 M594 235.45 L585.73 235.45 M594 174.3 L585.73 174.3 M594 113.15 L585.73 113.15 M594 52 L585.73 52" stroke="#000" stroke-width="1.0" stroke-linecap="butt" stroke-linejoin="miter"/>
<path d="M53.96 598.7 L55.42 694.08 L56.59 708.08 L58.04 700.44 L59.21 682.9 L60.67 673.96 L61.33 674.96 L62.13 683.93 L63.29 704.15 L64.75 700.21 L65.92 673.96 L67.38 649.89 L68.54 673.96 L70 684.02 L70.75 670.21 L71.46 618.39 L73.1 633.45 L74.09 630.2 L75.25 639.83 L76.71 672.24 L77.88 688.18 L79.34 684.02 L80.17 699.33 L80.8 695.62 L81.96 704.08 L83.42 684.02 L84.59 694.02 L86.05 680.08 L87.21 694.05 L88.67 707.89 L90.13 700.21 L91.3 711.65 L91.94 710.09 L92.76 708.08 L93.92 714.99 L95.38 712.02 L96.55 715.95 L98.01 709.83 L99.46 713.36 L100.63 710.7 L101.36 710.85 L102.09 704.15 L103.26 710.46 L104.71 714.24 L105.88 703.93 L107.34 684.02 L108.8 690.18 L109.97 680.08 L110.78 689.85 L111.42 685.82 L112.59 697.15 L114.05 704.98 L115.22 712.34 L116.67 704.15 L118.13 714.14 L119.3 712.02 L120.76 719.8 L121.92 715.91 L122.55 717.23 L123.38 712.6 L124.55 707.54 L126.01 698.72 L127.47 700.21 L128.63 704.36 L130.09 689.69 L131.26 681.48 L131.97 689.06 L132.72 666.88 L133.88 641.37 L135.34 634.14 L136.8 663.89 L137.97 644.2 L139.03 632.2 L140.59 570.26 L141.39 602.73 L142.93 605.26 L143.74 629.19 L144.68 644.2 L145.26 552.76 L146.1 583.49 L147.59 609.64 L148.76 644.99 L149.93 666.92 L151.39 673.54 L152.55 684 L153.16 700.28 L154.01 698.16 L154.59 703.85 L156.05 709.85 L157.22 694.07 L157.87 691.7 L158.68 680.08 L160.14 697.08 L161.3 704.18 L162.76 694.08 L163.93 700.78 L165.39 689.57 L166.55 671.05 L167.29 667.86 L168.01 647.41 L169.47 644.2 L170.64 669.18 L172.1 673.75 L173.26 662.57 L174.72 653.83 L175.89 684.03 L176.71 704.79 L177.35 703.92 L178.8 709.89 L179.97 712.13 L181.43 708.08 L182.6 714.72 L184.06 712.02 L185.22 715.99 L186.68 708.08 L187.31 709.08 L188.14 709.12 L189.31 704.15 L190.76 706.98 L191.93 712.47 L193.39 704.15 L194.56 708.56 L196.01 700.21 L196.72 701.21 L197.47 704.87 L198.64 709.36 L200.1 708.9 L201.27 708.08 L202.72 711.28 L203.89 710.63 L205.35 710.63 L206.14 709.08 L206.81 705.08 L207.97 700.72 L209.43 700.21 L210.6 700.21 L212.06 698.99 L213.22 705.71 L214.68 712.04 L216.14 710.79 L217.31 709.83 L217.92 710.83 L218.77 712.15 L219.93 717.59 L221.39 712.68 L222.56 709.41 L224.02 707 L225.48 693.48 L226.64 680.08 L227.33 681.08 L228.1 687.6 L229.27 689.4 L230.73 682.44 L231.89 675.46 L233.35 663.89 L234.81 681.86 L235.98 671.2 L236.75 664.89 L237.44 663.89 L238.6 684.61 L240.06 691.81 L241.23 701.46 L242.69 698.87 L244.14 699.36 L245.31 695.74 L246.77 684.02 L247.94 673.96 L249.39 700.21 L250.56 695.83 L252.02 690.74 L253.48 663.81 L254.65 618.39 L255.59 619.39 L257.27 645.33 L257.95 646.68 L259.12 653.38 L259.9 634.14 L261.35 640.87 L261.94 656.4 L262.65 658.77 L263.83 693.18 L264.85 684.18 L266.19 683.68 L267.36 671.89 L268.54 693.17 L269.58 670.89 L270.9 665.69 L271.63 657.77 L273.25 689.68 L273.96 692.77 L275.61 705.74 L276.88 710.27 L277.96 710.58 L279.14 702.52 L279.79 701.52 L281.49 698.07 L282.71 692.77 L283.85 693.77 L285.02 706.27 L285.63 692.77 L287.38 708.93 L288.54 710.27 L289.73 712.3 L291.46 701.52 L292.09 704.3 L293.27 680.64 L294.38 679.64 L295.62 680.64 L297.29 697.09 L297.97 689.4 L299.15 695.89 L300.21 689.66 L301.51 684.82 L303.13 675.27 L303.86 685.26 L305.04 680.69 L306.05 688.31 L307.39 692.48 L308.96 705.96 L309.75 695.82 L310.93 699.88 L311.88 693.05 L313.28 696.69 L314.8 684.02 L315.63 694.65 L316.81 693.95 L317.71 701.54 L319.17 693.77 L320.63 692.77 L321.52 693.77 L322.7 707.82 L323.55 700.3 L325.05 701.42 L326.23 689.4 L327.92 688.4 L328.59 689.4 L329.76 694.97 L330.84 693.71 L332.12 699.23 L333.76 692.77 L334.47 699.46 L335.65 693.77 L336.67 701.31 L338 698.15 L339.18 711.78 L340.36 698.15 L341.05 697.15 L342.71 701.72 L343.97 710.27 L345.07 701.02 L346.25 706.2 L346.88 692.77 L348.6 711.09 L349.8 710.27 L350.95 713.75 L352.72 701.52 L354.49 704.42 L355.63 714.65 L356.84 711.27 L358.55 710.27 L359.2 706.9 L360.37 714.68 L361.47 706.93 L362.73 707.52 L363.91 702.52 L365.08 709.03 L365.84 701.52 L367.88 702.83 L368.61 687.21 L369.63 680.08 L371.09 657.77 L372.55 691.46 L373.32 699.97 L374.01 714.21 L375.47 709.4 L376.93 691.46 L378.39 680.08 L379.21 689.17 L380.14 668.59 L381.89 622.76 L383.05 635.96 L384.51 667.22 L385.97 691.46 L387.43 702.83 L388.89 680.08 L389.81 681.08 L390.64 691.46 L392.1 687.08 L393.55 701.77 L395.01 709.69 L395.69 717.52 L396.47 714.57 L397.93 709.4 L399.39 702.83 L400.4 699.41 L401.14 680.08 L402.6 664.33 L404.05 691.46 L405.51 709.4 L406.29 710.4 L406.97 718.59 L408.43 714.21 L409.89 716.57 L411 717.4 L411.64 718.26 L413.1 714.21 L414.56 718.97 L416.01 713.74 L417.47 709.4 L418.93 714.97 L420.39 709.4 L422.14 710.74 L422.77 712.58 L423.6 714.85 L425.06 716.15 L426.51 714.08 L427.97 702.92 L428.66 702.02 L429.43 691.46 L430.89 694.52 L432.64 687.08 L433.37 703.24 L434.1 702.83 L435.56 720.77 L437.02 709.4 L438.47 702.83 L439.25 706.36 L439.93 714.38 L441.39 718.45 L443.14 720.79 L443.96 715.53 L444.6 714.3 L446.06 709.4 L447.52 714.6 L448.98 702.83 L450.43 708.91 L451.89 712.35 L453.64 709.4 L455.1 714.26 L455.74 715.21 L456.56 718.51 L458.02 709.4 L459.48 714.26 L460.93 718.6 L461.62 722.89 L462.39 723.11 L464.14 718.59 L465.6 720.58 L466.33 723.67 L467.06 723.05 L468.52 718.59 L469.98 720.54 L471.44 719.41 L472.22 718.11 L472.89 716.4 L474.64 717.36 L476.1 714.21 L476.93 716.57 L477.56 718.78 L479.02 722.57 L480.48 725.25 L481.94 725.15" stroke="#000000" stroke-width="1.25"/>
<path d="M53.96 715.96 L55.42 726.02 L56.59 715.96 L58.04 719.9 L59.21 712.02 L60.67 718.15 L61.33 718.64 L62.13 709.83 L63.29 719.9 L64.75 723.84 L65.92 718.15 L67.38 719.9 L68.54 718.87 L70 715.96 L70.75 720.68 L71.46 719.49 L72.63 718.08 L74.09 714.21 L75.25 715.84 L76.71 722.09 L77.88 719.9 L79.34 726.02 L80.17 722.74 L80.8 718.15 L81.96 719.9 L83.42 722.52 L84.59 718.49 L86.05 715.44 L87.21 712.22 L88.67 709.83 L90.13 718.19 L91.3 715.96 L91.94 721.64 L92.76 722.03 L93.92 718.2 L95.38 715.96 L96.55 722.03 L98.01 718.15 L99.46 722.13 L100.63 718.15 L101.36 721.93 L102.09 719.92 L103.26 715.96 L104.71 722.13 L105.88 718.15 L107.34 719.62 L108.8 723.97 L109.97 722.4 L110.78 723.39 L111.42 719.9 L112.59 721.81 L114.05 717.83 L115.22 712.02 L116.67 716.56 L118.13 714.21 L119.3 719.08 L120.76 721.9 L121.92 719.9 L122.55 724.27 L123.38 723.75 L124.55 722.09 L126.01 723.81 L127.47 722.09 L128.63 723.58 L130.09 719.9 L131.26 718.15 L131.97 723.71 L132.72 723.84 L133.88 725.15 L135.93 725.63 L136.68 727.02 L137.86 727.02 L138.55 727 L140.21 727.9 L141.47 726.9 L142.57 727.9 L144.09 727.81 L144.92 727.9 L146.1 727.9 L146.72 726.9 L148.45 728.27 L149.34 727.68 L150.81 727.9 L151.97 726.9 L153.16 728.16 L154.59 728.21 L155.52 728.11 L157.22 726.02 L157.87 725.46 L159.26 722.09 L160.72 726.9 L161.4 727.02 L162.76 726.02 L163.76 727.02 L165.39 727.11 L166.11 727.02 L167.29 727.02 L168.01 725.37 L169.65 726.35 L170.64 725.15 L172 726.87 L173.26 725.99 L174.35 726.27 L175.89 723.84 L176.71 726.5 L177.89 724.84 L178.8 725.04 L180.24 723.96 L181.43 722.81 L182.6 723.09 L183.47 722 L184.64 718.15 L186.1 723.11 L187.31 720.9 L188.14 719.78 L189.89 718.15 L191.35 722.63 L192.01 723.09 L192.81 723.94 L194.56 722.58 L195.55 724.59 L196.6 723.23 L197.9 723.06 L198.64 719.6 L200.68 718.15 L201.43 719.15 L202.72 723 L203.79 723.96 L204.77 723.71 L206.14 723.96 L206.81 722.96 L208.56 726.08 L209.67 726.4 L210.6 725.15 L212.03 727.2 L213.22 726.79 L214.38 727.02 L216.14 726.02 L217.92 727.02 L218.77 726.52 L220.27 727.02 L221.39 726.34 L222.63 726.15 L224.02 724.56 L224.98 724.84 L226.64 723.76 L227.33 723.96 L228.68 722.96 L229.69 723.96 L230.73 723.92 L232.04 723.09 L232.77 722.09 L234.81 725.15 L235.58 726.13 L236.56 723.84 L237.93 726.52 L238.6 726.9 L240.29 728.11 L241.23 726.9 L242.64 727.02 L244.14 726.02 L244.99 727.61 L246.77 726.84 L248.53 727.9 L249.39 726.9 L250.88 727.02 L252.02 726.02 L253.24 727.02 L254.65 728.21 L255.59 727.02 L257.27 726.02 L257.95 726.15 L259.12 726.45 L259.9 725.15 L261.35 726.07 L262.65 726.59 L263.83 726.69 L264.85 725.89 L266.19 726.17 L267.36 724.4 L268.54 726.06 L269.72 724.4 L270.9 726.44 L272.07 724.4 L273.25 725.83 L274.43 724.4 L275.42 723.4 L276.78 724.4 L277.96 725.41 L279.14 724.4 L280.31 725.71 L281.49 724.4 L282.67 726.77 L284.17 725.61 L285.02 726.67 L286.2 724.4 L287.38 725.6 L288.56 724.4 L289.73 725.24 L290.91 724.4 L292.09 724.4 L292.92 723.4 L294.44 724.4 L295.62 724.4 L296.8 725.17 L297.97 724.4 L299.15 725.12 L300.33 724.4 L301.67 723.72 L302.68 724.4 L303.86 724.4 L305.04 724.4 L306.22 725.36 L307.39 724.4 L308.57 724.4 L309.75 724.4 L310.42 723.4 L312.1 724.4 L313.28 726.06 L314.46 724.4 L315.63 724.59 L316.81 724.4 L317.99 724.87 L319.17 724.58 L320.34 725.27 L321.52 725.27 L322.7 726.24 L323.88 725.27 L325.01 724.96 L326.23 726.59 L327.41 727.22 L328.59 726.59 L329.76 726.68 L330.94 726.59 L332.12 727.29 L333.76 727.12 L334.47 728.03 L335.65 726.59 L336.83 727.35 L338 726.59 L339.18 727.05 L340.36 726.59 L341.54 726.59 L342.51 725.59 L343.89 726.59 L345.07 726.59 L346.25 727.27 L347.42 726.59 L348.6 727 L349.78 726.59 L351.26 726.47 L352.13 727.9 L353.31 728.05 L354.49 727.9 L355.66 727.9 L356.84 727.9 L358.02 728.36 L359.2 727.9 L360.37 727.9 L361.55 727.9 L362.93 726.9 L363.91 727.9 L365.08 727.9 L366.26 727.9 L367.88 727.34 L368.61 728.34 L369.79 728.63 L371.09 728.65 L372.15 728.33 L373.32 727.46 L374.01 726.46 L375.68 726.15 L376.93 725.15 L378.03 726.15 L379.21 726.15 L380.14 724.54 L381.57 725.87 L383.05 724.95 L383.92 725.3 L385.1 723.96 L385.97 722.96 L387.45 723.96 L388.89 724.18 L389.81 723.96 L390.98 724.07 L392.1 722.96 L393.34 722.68 L395.01 720.77 L395.69 722.87 L396.87 721.8 L397.93 725.15 L399.39 727.34 L400.4 724.62 L401.14 720.77 L402.6 722.96 L404.05 718.59 L405.51 725.15 L406.29 726.15 L406.97 727.34 L408.43 714.21 L409.89 718.59 L411 720.26 L411.64 723.15 L413.1 720.77 L414.56 716.4 L416.01 722.96 L417.47 720.77 L418.93 716.4 L420.39 722.96 L422.14 718.59 L422.77 720.2 L423.6 720.65 L425.06 714.21 L426.51 720.76 L427.97 718.55 L428.66 716.34 L429.43 709.4 L430.89 714.32 L432.64 702.83 L433.37 711.03 L434.1 714.13 L435.56 709.4 L437.02 718.62 L438.47 714.21 L439.25 703.83 L439.93 702.83 L441.39 662.14 L443.14 702.83 L443.96 709.84 L444.6 722.96 L446.06 714.21 L447.52 718.59 L448.98 702.83 L450.43 682.71 L451.89 709.4 L453.64 718.59 L455.1 691.46 L455.74 697.43 L456.56 714.21 L458.02 722.96 L459.48 718.59 L460.93 714.21 L461.62 719.05 L462.39 720.88 L464.14 722.91 L465.6 718.59 L466.33 722.05 L467.06 721.05 L468.52 723.44 L469.98 720.65 L471.44 718.24 L472.22 717.4 L472.89 716.4 L474.64 719.86 L476.1 718.59 L476.93 715.21 L477.56 714.21 L479.02 722.96 L480.48 725.15 L481.94 726.72" stroke="#ff0000" stroke-width="1.25"/>
<path d="M53.96 694.08 L55.42 648.14 L56.59 673.96 L58.04 700.21 L59.21 690.15 L60.67 700.2 L61.33 699.02 L62.13 698.02 L63.29 704.15 L64.75 700.21 L65.92 673.96 L67.38 649.89 L68.54 694.08 L70 709.83 L70.75 706.08 L71.46 684.02 L72.63 663.89 L74.09 673.96 L75.25 709.83 L76.71 700.21 L77.88 687.96 L79.34 703.98 L80.17 704.7 L80.8 699.6 L81.96 697.73 L83.42 687.96 L84.59 696.01 L86.05 702.63 L87.21 691.9 L88.67 701.39 L90.13 682.82 L91.3 677.89 L91.94 689.9 L92.76 686.66 L93.92 681.83 L95.38 693.53 L96.55 702.45 L98.01 709.89 L99.46 695.33 L100.63 683.28 L101.36 682.52 L102.09 672 L103.26 653.83 L104.71 663.89 L105.88 677.89 L107.34 704.15 L108.8 694.08 L109.97 683.25 L110.78 683.25 L111.42 649.89 L112.59 664.02 L114.05 684.27 L115.22 693.03 L116.67 696.79 L118.13 703.82 L119.3 710.45 L120.76 704.15 L121.92 690.15 L122.55 690.34 L123.38 653.83 L124.55 631.95 L126.01 663.7 L127.47 642.78 L128.63 624.08 L130.09 666.1 L131.26 685.55 L131.97 698.19 L132.72 693.64 L133.88 703.74 L135.34 690.22 L136.8 684.02 L137.97 704.02 L139.43 694.08 L140.59 704.1 L141.39 706.24 L142.05 693.52 L143.22 672.4 L144.68 658.2 L146.14 661.02 L147.3 683.22 L148.76 673.96 L149.93 663.89 L151.39 694.08 L152.55 704.15 L153.16 699.11 L154.01 684.02 L154.59 700.17 L156.05 707.86 L157.22 694.08 L157.87 705.27 L158.68 704.65 L160.14 708.65 L161.3 699.62 L162.76 690.15 L163.93 704.15 L165.39 719.9 L166.55 704.15 L167.29 704.13 L168.01 684.02 L169.47 680.08 L170.64 694.66 L172.1 682.15 L173.26 673.96 L174.72 683.96 L175.89 704.2 L176.71 699.21 L177.35 683.83 L178.8 673.38 L179.97 658.66 L181.43 644.2 L182.6 662.85 L184.06 684.02 L185.22 659.95 L186.68 694.08 L187.31 695.08 L188.14 708.08 L189.31 693.89 L190.76 684.02 L191.93 693.69 L193.39 667.83 L194.56 694.56 L196.01 700.24 L196.72 691.15 L197.47 690.15 L198.64 703.43 L200.1 694.64 L201.27 690.15 L202.72 699.46 L203.89 680.08 L205.35 684.02 L206.14 674.96 L206.81 673.96 L208.5 599.66 L209.43 581.2 L210.6 684.02 L212.03 687 L213.22 684.02 L214.68 694.08 L216.14 659.95 L217.31 684.02 L217.92 685.02 L218.77 695.86 L219.93 667.83 L221.39 684.02 L222.56 638.08 L224.02 663.89 L225.48 694.08 L226.64 690.15 L227.33 693.18 L228.1 704.42 L229.27 700.23 L230.73 694.08 L231.89 696.74 L233.35 704.12 L234.81 694.08 L235.98 684.02 L236.75 645.2 L237.44 644.2 L239.11 653.85 L240.06 653.83 L240.64 568.07 L241.46 583.89 L242.69 684.02 L244.14 704.15 L245.31 708.08 L246.77 712.02 L247.94 694.08 L249.39 673.96 L250.56 639.83 L252.02 684.02 L253.48 709.83 L254.65 715.96 L256.1 694.08 L257.27 644.2 L257.95 645.2 L258.73 663.89 L259.9 653.83 L261.35 663.94 L262.65 673.12 L263.4 679.72 L265.01 687.47 L266.31 701.52 L267.36 703.72 L269 701.52 L269.72 679.72 L271.04 657.77 L272.07 667.28 L273.08 701.52 L274.43 663.7 L276 649.02 L276.78 650.62 L278.33 697.15 L279.14 692.94 L280.31 700.4 L281.25 688.4 L282.67 701.7 L284.17 692.77 L285.02 689.44 L286.2 658.35 L287.09 653.39 L288.56 654.46 L290 675.27 L290.91 622.99 L292.63 561.51 L293.27 572.04 L294.96 666.52 L295.62 667.52 L297.29 701.52 L297.97 688.6 L299.63 670.89 L300.33 654.39 L301.67 653.39 L302.68 661.58 L304 692.77 L305.04 685.02 L306.05 684.02 L307.5 631.51 L308.57 673.85 L309.84 684.02 L310.93 703.11 L311.88 714.65 L313.28 691.01 L314.8 633.7 L315.63 671.41 L316.81 663.33 L317.71 692.77 L319.17 693.77 L320.63 701.52 L321.52 683.29 L322.7 681.81 L323.55 666.52 L325.05 647.48 L326.46 607.45 L327.41 651.31 L328.51 670.89 L329.76 699.01 L330.84 701.52 L332.12 703.91 L333.76 684.02 L334.47 682.98 L336.09 657.77 L336.83 680.21 L338.13 692.77 L339.18 702.62 L340.36 702.78 L341.05 710.27 L342.71 683.72 L343.97 675.27 L345.07 683.03 L346.25 709 L346.88 714.65 L348.6 712.27 L349.8 701.52 L350.95 697.73 L352.72 679.64 L354.49 682.18 L355.63 701.52 L356.84 693.77 L358.55 692.77 L359.2 693.99 L360.37 716.55 L361.47 723.4 L362.73 716.62 L364.38 701.52 L365.08 701.76 L366.26 685.02 L367.3 684.02 L367.88 702.83 L368.61 695.8 L369.63 691.46 L371.09 709.4 L372.55 714.21 L373.32 705.54 L374.01 702.83 L375.47 691.46 L376.93 687.08 L378.39 714.21 L379.21 719.61 L380.14 718.59 L381.59 691.46 L383.05 680.08 L384.51 657.77 L385.97 691.46 L387.43 714.21 L388.89 698.46 L389.81 699.47 L390.64 709.4 L392.1 702.83 L393.55 714.03 L395.01 707.21 L395.69 715.15 L396.47 715.07 L397.93 709.4 L399.39 710.44 L400.4 712.58 L401.14 712.7 L402.6 709.4 L404.05 714.21 L405.51 709.4 L406.29 696.65 L406.97 691.46 L408.43 669.14 L409.89 657.77 L411 671.24 L411.64 691.46 L413.1 714.21 L414.56 716.4 L416.01 709.38 L417.47 702.83 L418.93 713.78 L420.39 705.43 L422.14 698.46 L422.77 699.46 L423.6 708.88 L425.06 714.21 L426.51 709.4 L427.97 691.46 L428.66 699.56 L429.43 680.08 L430.89 666.89 L432.64 657.77 L433.37 680.27 L434.1 678.87 L435.56 690.32 L437.02 677.89 L438.47 691.46 L439.25 697.11 L439.93 709.4 L441.39 691.46 L443.14 702.83 L443.96 710.81 L444.6 720.77 L446.06 691.46 L447.52 702.83 L448.98 695.83 L450.43 714.21 L451.89 709.4 L453.64 698.46 L455.1 714.21 L455.74 711.56 L456.56 709.4 L458.02 691.46 L459.48 687.08 L460.93 702.99 L461.62 714.57 L462.39 709.32 L464.14 698.05 L465.6 691.46 L466.33 705.89 L467.06 698.46 L468.52 709.4 L469.98 691.46 L471.44 669.14 L472.22 681.31 L472.89 702.83 L474.64 714.21 L476.1 709.4 L476.93 696.1 L477.56 691.46 L479.02 680.08 L480.48 666.96 L481.94 672.89" stroke="#0000ff" stroke-width="1.25"/>
<path d="M36.67 476.8 L499.6 476.8 L499.6 740.4 L36.67 740.4 Z M54.27 740.4 L54.27 747.2 M90.76 740.4 L90.76 747.2 M123.73 740.4 L123.73 747.2 M160.23 740.4 L160.23 747.2 M195.55 740.4 L195.55 747.2 M232.04 740.4 L232.04 747.2 M267.36 740.4 L267.36 747.2 M303.86 740.4 L303.86 747.2 M340.36 740.4 L340.36 747.2 M375.68 740.4 L375.68 747.2 M412.18 740.4 L412.18 747.2 M447.5 740.4 L447.5 747.2 M36.67 730.4 L28.4 730.4 M36.67 681.64 L28.4 681.64 M36.67 632.88 L28.4 632.88 M36.67 584.12 L28.4 584.12 M36.67 535.36 L28.4 535.36 M36.67 486.6 L28.4 486.6" stroke="#000" stroke-width="1.0" stroke-linecap="butt" stroke-linejoin="miter"/>
<path d="M611.29 493.69 L612.75 649.02 L614.5 692.77 L615.13 670.01 L616.54 649.02 L617.49 588.04 L618.88 568.07 L619.84 569.07 L620.92 618.39 L622.67 657.77 L623.37 619.74 L624.42 535.26 L626.17 649.02 L626.91 650.02 L628.21 662.14 L629.26 546.42 L630.25 495.88 L632 574.63 L632.79 578.4 L633.46 517.75 L635.5 614.01 L636.32 625.59 L637.55 666.52 L638.68 650.02 L639.88 649.02 L641.03 645.64 L642.8 644.64 L645.13 596.51 L645.74 597.51 L647.17 662.14 L648.1 663.14 L649.51 684.02 L650.45 663.14 L651.55 662.14 L652.81 663.14 L654.46 692.77 L655.16 679.82 L656.34 687.35 L657.38 666.52 L658.69 680.73 L660.3 680.15 L661.05 675.21 L662.63 647.06 L663.4 651.47 L664.58 601.89 L665.26 600.89 L666.93 601.89 L667.59 628.59 L669.63 631.51 L670.47 648.6 L671.97 657.77 L672.82 686.62 L674.01 697.15 L675.18 705.66 L676.92 701.52 L677.53 701.88 L678.71 693.77 L679.84 692.77 L681.06 693.77 L682.17 701.52 L683.42 676.27 L684.51 675.27 L685.77 645.17 L687.43 640.27 L688.13 641.27 L689.47 666.52 L690.48 601.73 L691.66 623.77 L692.38 557.13 L694.43 649.02 L695.19 607.29 L696.76 583.39 L697.55 538.44 L698.22 537.44 L700.26 603.52 L701.08 603.86 L702.59 519.94 L703.43 607.96 L704.93 595.4 L705.79 629.97 L706.97 648.05 L708.14 679.43 L709.89 661.33 L710.5 677.66 L711.93 675.38 L712.85 674.53 L714.26 640.27 L715.21 672.25 L716.59 679.91 L717.56 695.63 L718.64 692.72 L719.91 693.54 L721.55 681.92 L722.27 683.89 L723.45 658.77 L724.47 656.26 L725.8 634.7 L726.51 633.7 L728.16 634.7 L729.43 644.64 L730.51 621.7 L731.69 666.5 L732.35 618.39 L734.1 675.27 L735.22 676.27 L736.14 692.77 L737.57 680.64 L739.06 679.64 L739.93 680.64 L741.11 698.3 L741.97 701.54 L743.46 703.01 L744.89 684.02 L745.82 703.21 L746.99 685.02 L747.81 687.98 L749.35 673.31 L750.72 673.55 L751.7 665.33 L752.88 680.39 L753.64 658.04 L755.68 649.02 L756.41 650.02 L758.02 674.3 L758.77 671.89 L759.94 689.58 L760.93 683.82 L762.3 702.02 L763.85 676.25 L764.65 690.66 L765.83 676.27 L766.77 679.92 L768.19 667.52 L769.1 666.52 L770.54 669.86 L771.43 684.45 L772.89 685.02 L774.06 693.14 L775.25 695.34 L776.98 700.91 L777.6 687.23 L778.78 694.51 L779.89 684.87 L781.14 694.21 L782.81 678.79 L783.49 691.19 L784.67 663.14 L785.73 662.14 L787.02 663.14 L788.64 670.18 L789.38 655.57 L790.55 668.36 L791.56 646.1 L792.91 674.25 L794.48 637.3 L795.26 636.89 L796.52 635.89 L797.62 660.74 L798.85 666.52 L799.97 689.48 L801.15 674.53 L801.77 692.77 L803.51 646.3 L804.69 644.64 L805.86 645.64 L807.6 679.64 L808.21 668.39 L809.39 687.12 L810.52 666.52 L811.75 654.28 L813.44 614.01 L814.1 650.68 L815.77 666.52 L816.46 673.73 L817.63 641.27 L818.69 640.27 L819.99 649.66 L821.6 684.02 L822.34 685.02 L823.52 696.54 L824.7 685.6 L825.87 704.39 L826.92 701.52 L828.23 704.34 L829.83 692.77 L830.58 706.56 L831.76 699.28 L832.75 710.27 L834.12 692.16 L835.67 684.02 L836.47 667.52 L837.65 680.7 L838.58 666.52 L840 682.65 L841.5 672.75 L842.36 686.32 L843.53 679.87 L844.42 693.21 L845.89 680.64 L847.34 679.64 L848.24 680.64 L849.42 698.95 L850.25 693.72 L851.78 708.66 L853.17 701.22 L854.13 698.02 L855.31 685.02 L856.09 684.02 L857.66 685.02 L859 692.73 L860.02 680.64 L861.19 688.56 L861.92 679.64 L863.55 691.85 L864.84 687.92 L865.9 690.07 L867.08 685.02 L867.75 684.02 L869.44 686.01 L870.67 692.44 L871.79 669.8 L872.97 679.38 L873.59 666.52 L875.32 691.97 L876.5 674.88 L877.68 689.65 L879.42 692.99 L880.03 702.43 L881.21 676.27 L882.34 675.27 L883.56 676.27 L885.26 689.05 L885.92 689.4 L887.1 692.28 L888.17 696.27 L889.45 696.02 L891.09 679.64 L891.81 684.19 L892.98 664.05 L894.01 659.95 L895.34 661.6 L896.92 692.77 L897.69 685.54 L898.87 696.76 L899.84 684.02 L901.22 694.46 L902.76 692.81 L903.58 694.59 L904.76 663.14 L905.67 662.14 L907.11 663.14 L908.59 679.71 L909.47 680.64 L910.64 699.14 L911.51 697.75 L913 698.9 L914.43 688.4 L915.35 694.42 L916.53 689.4 L917.34 696.48 L918.88 680.64 L920.26 673.25 L921.24 667.52 L922.42 693.99 L923.18 666.52 L924.77 662.98 L925.51 657.77 L927.13 627.07 L928.13 579.01 L929.48 639.54 L930.47 657.77 L931.83 685.79 L933.39 670.89 L934.19 662.75 L935.37 650.02 L936.3 649.02 L937.72 595.78 L938.9 624.05 L939.8 565.88 L941.25 622.22 L942.14 605.26 L944.18 657.55 L944.79 658.77 L946.51 666.9 L947.14 652.07 L948.85 649.02 L949.49 650.02 L950.89 669.04 L951.85 672.18 L953.03 692.81 L953.8 692.77 L955.38 698.15 L956.72 684.02 L957.74 673.86 L958.91 617.2 L959.64 616.2 L961.68 675.27 L962.45 683.45 L964.01 692.77 L964.8 692.62 L965.98 672.01 L966.93 668.6 L968.33 663.14 L969.85 662.14 L970.69 663.14 L971.86 677.62 L972.76 675.11 L974.22 679.43 L975.68 643.8 L976.57 645.08 L978.01 640.27 L978.93 668.21 L980.06 659.4 L981.28 663.37 L982.97 649.02 L983.64 664.94 L984.81 650.02 L985.89 666.52 L987.17 609.51 L987.93 605.26 L989.52 519.14 L990.27 517.75 L991.88 538.42 L992.6 605.26 L994.64 670.89 L995.41 669.21 L996.68 605.26 L997.77 611.14 L999.02 528.69 L1000.12 582.63 L1001.35 605.26 L1002.47 651.76 L1003.39 670.89 L1004.83 670.68 L1005.43 649.02 L1007.77 596.51 L1010.1 640.27 L1010.72 641.27 L1012.14 662.14 L1013.07 596.23 L1014.18 554.95 L1015.93 605.26 L1016.6 624.59 L1017.78 514.38 L1018.85 513.38 L1020.13 543.03 L1020.89 627.14 L1022.49 628.14 L1023.81 649.02 L1024.84 650.02 L1026.02 680.31 L1026.73 657.77 L1028.38 633.56 L1029.64 596.51 L1030.73 645.51 L1031.69 618.39 L1033.09 619.68 L1034.02 568.07 L1035.44 639.58 L1036.35 649.02 L1037.79 685.78 L1039.27 684.02" stroke="#000000" stroke-width="1.25"/>
<path d="M611.29 561.51 L612.46 684.02 L613.63 618.39 L614.79 701.52 L615.96 640.27 L617.13 605.26 L618.29 587.76 L619.46 657.77 L620.04 644.2 L620.63 622.76 L621.21 665.51 L622.67 683.66 L623.37 674.75 L624.13 653.83 L625.29 674.11 L626.75 695.46 L627.92 684.02 L629.38 697.8 L630.55 688.89 L632 680.08 L632.79 686.91 L633.46 682.82 L634.63 697.8 L636.09 677.89 L637.25 700.21 L638.71 708.08 L639.88 687.96 L641.34 680.08 L642.8 670.02 L643.96 684.48 L644.57 700.25 L645.42 676.14 L646.59 686.97 L648.05 703.9 L649.21 698.02 L650.67 700.51 L652.13 694.08 L653.3 694.92 L653.98 701.68 L654.76 685.03 L655.92 667.89 L657.38 645.95 L658.55 661.56 L660.01 683.78 L661.46 701.25 L662.63 690.15 L663.4 701.56 L664.09 703.42 L665.26 695.83 L666.72 700.88 L667.88 708.17 L669.34 694.08 L670.8 704.36 L671.97 701.31 L672.82 702.31 L673.42 683.49 L674.59 672.21 L676.05 683.87 L677.22 704.37 L678.67 700.21 L680.13 708.4 L681.3 704.15 L682.76 709.83 L683.93 700.21 L684.59 713.95 L685.38 718.15 L686.55 694.08 L688.01 684.02 L689.47 691.85 L690.63 684.02 L692.09 698.23 L693.26 684.02 L694.01 703.09 L694.72 693.84 L695.88 679.12 L697.34 669.17 L698.8 653.83 L699.97 677.33 L701.43 681.03 L702.59 670.02 L703.43 674.19 L704.05 674.48 L705.22 688.4 L706.68 673.96 L708.14 674.34 L709.3 668.03 L710.76 663.89 L711.93 686.36 L713.39 691.63 L714.55 679.81 L715.21 686.45 L716.01 663.89 L717.47 683.5 L718.64 691.51 L720.1 684.02 L721.26 700.05 L722.72 692.3 L723.89 684.02 L724.62 690.21 L725.35 690.86 L726.8 690.15 L727.97 694.87 L729.43 687.96 L730.6 692.88 L732.05 684.98 L733.22 680.08 L734.04 683.84 L734.68 689.18 L736.14 696.52 L737.31 691.88 L738.76 686.21 L739.93 691.48 L741.39 687.96 L742.56 699.29 L744.01 687.69 L744.64 685.81 L745.47 680.08 L746.64 683.51 L748.1 669.66 L749.26 672.51 L750.72 667.83 L751.89 685.34 L753.35 677.55 L754.06 664.89 L754.81 659.89 L755.97 653.4 L757.43 648.66 L758.6 638.08 L760.06 660.92 L761.22 684.97 L762.68 682.63 L763.48 674.96 L764.14 673.96 L765.31 686 L766.77 700.54 L767.93 684.02 L769.39 686.97 L770.56 684.02 L772.02 692.91 L773.48 687.96 L774.64 697.61 L775.25 701.21 L776.1 705.09 L777.27 700.38 L778.73 694.08 L779.89 704.14 L781.35 684.44 L782.81 663.49 L783.98 658.2 L784.67 659.2 L785.43 673.88 L786.6 688.04 L788.06 683.5 L789.23 674.5 L790.69 659.95 L792.14 673.48 L793.31 663.89 L794.09 665.93 L794.77 683.34 L795.94 691.25 L797.39 687.24 L798.56 686.35 L800.02 673.96 L801.48 680.14 L802.64 693.93 L804.1 684.02 L805.27 688.52 L806.73 680.08 L807.89 689.69 L809.35 673.96 L810.81 680.65 L811.98 685.34 L813.44 672.81 L814.6 667.83 L815.28 671.42 L816.06 682.64 L817.23 678.66 L818.69 684.78 L819.85 682.11 L821.17 699.36 L822.19 679.64 L823.52 686.82 L824.7 680.64 L825.46 682.93 L826.63 665.42 L828.08 644.2 L829.25 659.57 L830.71 684.11 L831.88 704.37 L833.33 694.08 L834.12 695.08 L834.79 703.93 L835.96 684.17 L837.42 680.08 L838.58 692.14 L840.04 677.55 L841.21 673.96 L842.67 688.62 L844.13 684.02 L845.29 698.8 L846.75 685.97 L847.92 673.96 L849.38 681.88 L850.54 694.16 L852 705.95 L853.46 697.02 L854.63 684.47 L855.31 681.08 L856.09 680.08 L857.25 694.08 L858.71 667.83 L859.88 700.21 L861.34 704.15 L862.8 692.06 L863.96 687.96 L864.73 691.53 L865.42 700.69 L866.59 690.15 L868.05 699.59 L869.21 708.07 L870.67 696.62 L872.13 694.08 L873.3 704.47 L874.15 691.15 L874.75 689.09 L875.92 681.38 L877.38 680.08 L878.55 685.98 L880.01 688.66 L881.46 690.15 L882.63 699.7 L884.09 701.65 L885.26 694.08 L885.92 695.08 L886.71 703.48 L887.88 700.21 L889.34 709.68 L890.8 694.45 L891.96 684.02 L893.42 686 L894.59 677.89 L895.34 678.89 L896.05 686.51 L897.22 694.17 L898.67 703.71 L900.13 695.26 L901.3 687.02 L902.76 678.92 L903.92 669.99 L904.76 664.89 L905.38 663.89 L906.55 686.43 L908.01 692.51 L909.47 688.43 L910.63 673.96 L912.09 682.42 L913.26 664.57 L914.72 648.14 L915.88 675.9 L916.53 674.96 L917.34 681.85 L918.8 699.67 L919.97 705.07 L921.43 689.97 L922.59 687.66 L924.05 684.12 L925.22 680.83 L925.95 658.77 L926.68 657.77 L928.13 676.51 L929.59 694.59 L931.05 703.1 L931.83 707.03 L932.8 690.99 L934.26 676.06 L935.72 671.59 L936.54 675.97 L937.18 651.2 L938.64 658.59 L940.09 663.83 L941.55 657.77 L942.43 666.33 L943.3 667.88 L944.76 676.49 L946.22 686.72 L947.68 693.84 L948.32 702.39 L949.14 680.08 L950.6 677.86 L952.05 690.69 L953.03 704.28 L953.8 687.08 L955.26 691.46 L956.72 709.4 L958.18 714.21 L958.91 710.4 L959.64 709.4 L961.1 714.09 L962.55 711.58 L963.62 712.58 L964.3 718.59 L965.76 722.96 L967.22 716.4 L968.68 718.59 L969.51 719.11 L970.14 714.07 L971.6 702.59 L973.06 691.64 L974.81 677.89 L976.26 690.26 L977.72 699.55 L979.18 691.46 L980.64 695.35 L981.28 696.32 L982.1 689.45 L983.56 687.08 L985.31 692.83 L985.99 702.8 L986.77 690.25 L988.22 691.6 L989.68 687.08 L991.14 687.22 L991.88 692.46 L992.6 697.3 L994.06 691.46 L995.81 669.14 L996.59 619.18 L997.56 614.01 L998.72 646.39 L1000.18 680.04 L1001.64 690.9 L1002.47 691.43 L1003.1 670.9 L1004.56 648.32 L1006.31 624.98 L1007.18 600.89 L1008.36 601.89 L1009.23 618.39 L1010.68 669.14 L1012.14 680.08 L1013.6 647.23 L1014.25 659.12 L1015.93 618.39 L1016.81 643.01 L1018.27 669.3 L1018.96 687.72 L1019.73 691.29 L1021.19 677.27 L1022.64 657.77 L1024.1 676.42 L1024.84 654.03 L1025.56 644.95 L1027.31 635.45 L1028.77 667.34 L1029.55 670.14 L1030.23 680.93 L1031.69 670.41 L1033.14 642.88 L1034.02 622.76 L1034.6 632.56 L1035.44 671.3 L1036.06 670.68 L1037.81 691.73 L1039.27 699.43" stroke="#ff0000" stroke-width="1.25"/>
<path d="M611.29 649.02 L612.46 679.47 L613.34 700.51 L613.95 709.38 L614.79 709.73 L615.96 704.13 L617.42 698.02 L618.59 705.42 L620.04 700.21 L621.21 707.57 L622.67 694.65 L623.37 695.14 L624.13 684.02 L625.29 699.1 L626.75 709.83 L627.92 712.02 L629.38 684.02 L630.55 666.08 L632 684.02 L632.79 697.92 L633.46 700.21 L634.63 708.08 L636.09 684.02 L637.25 704.15 L638.71 709.83 L639.88 695.4 L641.34 684.02 L642.8 694.83 L644.55 692.89 L645.74 692.9 L646.59 693.83 L648.05 684.97 L649.21 667.83 L650.67 682.72 L652.13 673.96 L653.3 694.08 L653.98 700.44 L654.76 704.15 L655.92 715.96 L657.38 694.08 L658.55 684.02 L660.01 694.15 L661.46 673.96 L662.63 684.35 L663.4 704.65 L664.09 704.01 L665.26 709.87 L666.72 693.73 L667.88 673.43 L669.34 663.89 L670.8 684.02 L671.97 715.96 L672.82 712.78 L673.42 700.21 L674.59 704.15 L676.05 709.48 L677.22 704.15 L678.67 714.21 L680.13 694.08 L681.3 663.89 L682.76 684.02 L683.93 700.07 L684.59 700.89 L685.38 684.02 L686.55 693.69 L688.01 709.81 L689.3 715.89 L690.05 712.05 L692.09 719.76 L693.26 712.02 L694.01 716.46 L694.72 708.08 L695.88 715.88 L697.34 712.02 L698.8 719.9 L699.97 708.08 L701.43 700.21 L702.59 694.08 L703.43 697.45 L704.05 695.86 L705.22 704.16 L706.68 715.93 L708.14 704.18 L709.3 695.73 L710.76 690.15 L711.93 702.63 L713.39 700.21 L714.55 707.23 L715.21 707 L716.01 704.15 L717.47 714.89 L718.64 708.52 L720.1 700.21 L721.26 709.83 L722.72 722.09 L723.89 708.08 L724.62 706.37 L725.35 695.83 L726.8 703.87 L727.97 694.08 L729.43 708.08 L730.6 700.21 L732.05 715.96 L733.22 704.15 L734.04 709.77 L734.68 712 L736.14 701.09 L737.31 688.93 L738.76 667.83 L739.93 684.02 L741.39 718.15 L742.56 704.15 L744.01 722.09 L744.64 708.59 L745.47 700.21 L746.64 715.96 L748.1 700.21 L749.26 712.02 L750.72 690.15 L751.89 704.15 L753.35 712.12 L754.06 703.97 L754.81 700.21 L755.97 708.08 L757.43 714.21 L758.6 700.21 L760.06 715.96 L761.22 704.15 L762.68 687.98 L763.48 685.02 L764.14 682.73 L765.31 663.1 L766.77 618.39 L767.93 652.89 L769.39 663.89 L770.56 684.02 L772.02 708.08 L773.48 700.21 L774.64 688.77 L775.25 685.02 L776.1 680.73 L777.27 677.89 L778.73 680.32 L779.89 686.21 L781.35 695.13 L782.81 704.15 L783.98 695.83 L784.67 697.87 L785.43 715.96 L786.6 690.15 L788.06 698.02 L789.23 691.9 L790.69 700.4 L792.14 704.15 L793.31 714.21 L794.09 702.2 L794.77 700.21 L795.94 684.02 L797.39 663.89 L798.85 559.32 L800.02 644.2 L801.48 684.02 L802.64 704.15 L804.1 714.21 L805.27 684.02 L806.73 673.96 L807.89 663.89 L809.35 673.92 L810.81 690.19 L811.98 708.06 L813.44 694.01 L814.6 673.95 L815.28 664.89 L816.06 663.89 L817.23 683.19 L818.69 692.23 L819.85 693.71 L820.73 679.64 L822.34 680.64 L823.65 690.5 L824.7 695.04 L825.46 693.77 L826.63 699.59 L828.08 684.02 L829.25 692 L830.71 707.91 L831.88 699.82 L833.33 690.15 L834.12 691.49 L834.79 703.52 L835.96 691.59 L837.42 684.02 L838.58 696.85 L840.04 701.73 L841.21 681.86 L842.67 653.69 L844.13 644.2 L845.29 673.96 L846.75 694.08 L847.92 663.89 L849.67 618.39 L850.54 653.83 L852 704.15 L853.46 700.21 L854.63 714.21 L855.31 696.65 L856.09 684.02 L857.25 694.08 L858.71 670.02 L859.88 709.83 L861.34 700.21 L862.8 683.61 L863.96 663.9 L864.55 645.95 L866 684.02 L867.46 714.21 L868.63 704.15 L869.44 686.08 L870.09 683.79 L871.25 673.73 L872.71 663.89 L873.88 669.42 L875.34 683.86 L876.8 704.19 L877.96 709.83 L879.42 694.08 L880.59 663.89 L881.21 649.14 L882.05 648.14 L883.8 614.01 L884.67 653.6 L886.13 684.3 L887.3 704.15 L888.76 694.08 L889.92 714.21 L890.63 691.37 L891.38 684.02 L892.55 676.14 L894.01 684.21 L895.47 701.18 L896.63 708.05 L898.09 693.27 L899.26 684.02 L900.05 677.61 L900.72 676.14 L901.88 704.15 L903.34 719.9 L904.8 704.15 L905.97 684.02 L907.42 714.21 L908.59 704.15 L910.05 684.16 L911.22 672.21 L911.82 673.21 L912.67 684.02 L914.13 714.21 L915.3 694.08 L916.76 684.02 L917.93 704.15 L919.38 719.9 L920.55 700.21 L921.24 690.11 L922.01 684.02 L923.47 673.96 L924.63 673.65 L926.09 692.75 L926.68 680.08 L928.13 682.3 L929.59 695.74 L931.05 694.21 L931.83 701.35 L932.8 682.71 L934.26 671.33 L935.72 709.4 L936.54 717.21 L937.18 720.77 L938.64 691.46 L940.09 680.08 L941.55 669.14 L942.43 671.2 L943.3 695.83 L944.76 714.21 L946.22 702.83 L947.68 693.65 L948.32 711.9 L949.14 701.22 L950.6 706.7 L952.05 704.62 L953.03 711.37 L953.8 702.83 L955.26 711.07 L956.72 709.4 L958.18 712.65 L958.91 708.21 L959.64 706.93 L961.1 705.06 L962.55 695.83 L963.62 696.83 L964.3 700.59 L965.76 682.53 L967.22 671.33 L968.68 680.08 L969.51 703.41 L970.14 702.83 L971.6 709.4 L973.06 700.2 L974.81 691.46 L976.26 702.79 L977.72 714.21 L979.18 720.77 L980.64 691.46 L981.28 690.4 L982.1 680.08 L983.56 691.41 L985.31 695.59 L985.99 694.04 L986.77 669.08 L988.22 646.82 L989.68 635.45 L991.14 652.41 L991.88 658.77 L992.6 680.31 L994.06 694.23 L995.81 694.13 L996.59 696.83 L997.27 707.21 L998.72 700.65 L1000.18 714.21 L1001.64 720.77 L1002.47 715.59 L1003.1 702.83 L1004.56 709.4 L1006.31 697.32 L1007.77 691.46 L1009.23 695.23 L1010.68 699.4 L1012.14 711.83 L1013.6 707.21 L1014.25 711.66 L1015.06 708.9 L1016.81 701.14 L1018.27 695.83 L1018.96 710.18 L1019.73 706.88 L1021.19 695.54 L1022.64 684.89 L1024.1 685.96 L1024.84 688.08 L1025.56 692.83 L1027.31 703.6 L1028.77 691.32 L1029.55 670.14 L1030.23 669.14 L1031.69 695.88 L1033.14 700.5 L1034.6 704.97 L1035.44 703.53 L1036.06 691.46 L1037.81 659.95 L1039.27 664.28" stroke="#0000ff" stroke-width="1.25"/>
<path d="M594 476.8 L1056.93 476.8 L1056.93 740.4 L594 740.4 Z M611.6 740.4 L611.6 747.2 M648.1 740.4 L648.1 747.2 M681.06 740.4 L681.06 747.2 M717.56 740.4 L717.56 747.2 M752.88 740.4 L752.88 747.2 M789.38 740.4 L789.38 747.2 M824.7 740.4 L824.7 747.2 M861.19 740.4 L861.19 747.2 M897.69 740.4 L897.69 747.2 M933.01 740.4 L933.01 747.2 M969.51 740.4 L969.51 747.2 M1004.83 740.4 L1004.83 747.2 M594 730.6 L585.73 730.6 M594 692.65 L585.73 692.65 M594 654.7 L585.73 654.7 M594 616.75 L585.73 616.75 M594 578.8 L585.73 578.8 M594 540.85 L585.73 540.85 M594 502.9 L585.73 502.9" stroke="#000" stroke-width="1.0" stroke-linecap="butt" stroke-linejoin="miter"/>
<path d="M328.63 1113.64 L330.09 1144.27 L331.84 1126.77 L332.47 1107.42 L333.88 1091.77 L334.82 1081.11 L336.21 1072.08 L337.17 1073.08 L338.25 1103.96 L340 1083.02 L340.71 1084.12 L341.75 1030.51 L343.5 1091.77 L344.24 1053.39 L345.54 1052.39 L346.59 979.01 L347.59 978.01 L349.34 1017.7 L350.13 1042.96 L350.8 1004.26 L352.84 1071.4 L353.66 1072.4 L354.88 1098.69 L356.34 1087.39 L357.19 1114.31 L358.67 1117.84 L359.54 1120.68 L361 1083.02 L361.9 1116.9 L363.05 1087.39 L364.25 1110.72 L365.09 1118.02 L366.61 1139.63 L367.42 1144.27 L368.96 1136.44 L369.76 1126.77 L371.32 1134.24 L372.67 1135.52 L373.67 1139.7 L374.85 1127.77 L375.59 1125.81 L377.2 1123.4 L378.51 1123.78 L379.56 1101.52 L380.74 1116.53 L381.42 1100.52 L383.09 1120.75 L384.34 1113.64 L385.45 1121.04 L386.62 1118.51 L387.26 1126.77 L388.98 1141.72 L390.17 1157.4 L391.33 1149.45 L393.09 1144.27 L394.86 1149.56 L396.01 1148.65 L397.22 1147.42 L398.92 1135.52 L399.57 1142.25 L400.75 1123.4 L401.84 1122.4 L403.11 1115.62 L404.76 1113.64 L405.46 1092.77 L406.8 1091.66 L407.81 1058.24 L408.99 1069.97 L409.72 1032.7 L411.76 1083.02 L412.52 1038.86 L414.09 1004.26 L414.88 959.32 L415.55 958.32 L417.59 1039.6 L418.41 1044.93 L419.93 945.19 L420.77 1013.75 L422.26 1021.76 L423.12 1043.64 L424.3 1039.26 L425.47 1085.29 L426.34 1100.52 L427.83 1125.1 L428.68 1109.27 L430.18 1123.79 L431.59 1127.2 L432.54 1140.74 L433.72 1130.62 L434.51 1124.24 L435.97 1107.76 L437.43 1106.21 L438.6 1120.21 L440.05 1139.9 L441.22 1100.08 L441.96 1107.34 L442.68 1069.89 L444.31 1077.09 L445.6 1056.76 L446.67 1098.72 L447.93 1064.2 L449.02 1047.52 L449.68 1043.64 L450.55 1100.08 L451.38 1127.01 L452.01 1115.83 L454.05 1126.54 L454.91 1128.58 L456.1 1127.78 L457.26 1121.21 L458.14 1120.21 L459.89 1135.96 L460.79 1145.13 L461.93 1143.83 L463.15 1137.24 L463.97 1125.9 L466.01 1115.83 L466.68 1116.83 L468.06 1121.47 L469.04 1105.72 L470.1 1100.08 L471.39 1101.08 L472.14 1100.08 L473.89 1120.51 L474.92 1136.55 L475.93 1130.04 L477.28 1142.03 L477.97 1138.64 L480.02 1136.29 L480.81 1130.83 L482.06 1128.89 L483.16 1116.83 L484.1 1115.83 L485.52 1116.83 L486.14 1129.89 L487.89 1139.94 L489.05 1134.8 L489.93 1120.21 L491.98 1129.82 L492.58 1126.9 L494.02 1127.24 L494.94 1121.21 L496.06 1119.25 L497.29 1101.08 L498.1 1100.08 L500.14 1125.9 L500.82 1119.47 L501.89 1093.95 L503.18 1117.84 L503.93 1120.21 L505.98 1132.02 L506.71 1108.55 L508.02 1083.89 L509.07 1070.89 L510.64 1069.89 L511.81 1058.95 L512.6 1107.5 L513.27 1079.95 L514.73 1120.21 L516.13 1123.67 L516.77 1128.08 L518.81 1118.74 L519.66 1120.03 L520.56 1102.8 L522.02 1076.02 L523.48 1100.08 L524.37 1123.24 L525.23 1129.83 L526.73 1128.15 L528.15 1106.21 L529.08 1093 L530.77 1048.01 L531.43 1073.02 L532.61 1049.01 L533.4 1079.95 L534.97 1080.95 L536.6 1079.95 L537.32 1081.56 L538.06 1105.24 L540.1 1120.21 L541.27 1125.59 L542.03 1109.17 L543.21 1115.13 L544.71 1100.08 L545.56 1115.23 L546.75 1083.89 L547.92 1120.21 L549.38 1135.96 L550.27 1138.58 L551.42 1128.11 L552.63 1129.68 L553.46 1110.48 L554.63 1106.21 L556.67 1121.26 L557.34 1126.14 L558.71 1128.08 L559.69 1129.07 L560.75 1110.14 L562.05 1130.73 L562.79 1135.96 L563.96 1146.02 L566 1125.9 L566.75 1138.38 L568.04 1129.83 L569.11 1128.02 L570.09 1115.83 L571.46 1123.71 L572.13 1118.77 L573.88 1106.21 L575 1107.21 L575.92 1115.83 L577.35 1124.09 L577.96 1139.9 L580 1135.96 L580.88 1135.84 L582.05 1120.21 L583.24 1134.65 L584.09 1134.9 L586.13 1123.96 L586.77 1116.83 L587.88 1121.4 L589.12 1102.01 L589.92 1100.08 L591.96 1106.69 L592.66 1125.18 L594 1123.8 L595.01 1125.02 L596.05 1110.14 L597.37 1122 L598.09 1119.22 L600.13 1136.22 L600.9 1125.15 L601.88 1124.18 L603.25 1112.89 L603.92 1111.89 L605.96 1124.15 L606.78 1136.31 L608.01 1135.96 L609.14 1116.04 L610.05 1090.02 L611.8 1052.39 L612.67 1077.44 L614.13 1105.85 L615.3 1096.14 L616.2 1108.79 L617.34 1108.7 L618.56 1125.09 L619.38 1126.74 L621.42 1098.79 L622.09 1079.2 L622.88 1078.2 L624.63 1107.16 L625.62 1113.77 L626.67 1105.63 L627.98 1118.83 L628.72 1119.46 L630.76 1110.65 L631.51 1094.95 L632.69 1110.14 L633.38 1093.95 L634.55 1121.15 L636.59 1129.09 L637.39 1131.71 L638.63 1121.02 L639.75 1136.52 L640.68 1115.83 L642.1 1108.89 L642.72 1090.02 L644.46 1063.66 L645.63 1010.82 L646.81 1076.77 L647.97 1120.21 L649.17 1133.47 L650.01 1110.14 L651.47 1095.15 L653.22 1079.31 L653.88 1097.29 L654.68 1077.68 L656.23 1077.73 L657.3 1028.32 L658.59 1070.32 L659.34 1052.39 L660.8 1100.08 L662.55 1129.83 L663.3 1130.59 L664.59 1110.14 L666.05 1099.22 L667.22 1093.95 L668.01 1119.99 L669.26 1121.98 L670.36 1134.19 L671.3 1135.96 L672.71 1147.56 L673.35 1146.02 L675.39 1129.83 L676.55 1093.95 L678.01 1073.83 L679.47 1120.21 L681.22 1135.96 L682.13 1137.82 L683.26 1129.58 L684.49 1131.55 L685.31 1120.21 L687.35 1121.81 L688.02 1125.15 L689.39 1122.81 L690.37 1124.68 L691.43 1119.9 L692.73 1116.83 L693.47 1109.58 L694.64 1110.14 L696.68 1118.31 L697.44 1116.83 L698.72 1115.83 L699.79 1116.83 L700.76 1128.06 L701.93 1111.89 L703.33 1122.65 L703.97 1120.21 L706.02 1100.08 L706.86 1040.14 L707.77 1019.57 L708.64 1069.89 L710.68 1106.9 L711.57 1107.21 L712.72 1117.79 L713.89 1109.66 L715.35 1090.81 L716.22 1039.26 L717.45 1078.08 L718.56 1069.89 L719.81 1107.14 L720.6 1120.21 L722.64 1129.83 L723.34 1116.83 L724.68 1115.83 L725.69 1116.83 L726.73 1125.48 L728.05 1121.21 L728.77 1121.21 L730.81 1089.18 L731.98 1083.89 L732.76 1090.01 L733.43 1111.55 L735.48 1096.82 L736.64 1069.89 L737.47 1075.4 L738.69 1100.08 L739.82 1102.88 L740.73 1129.83 L742.77 1139.9 L744.81 1129.83 L745.71 1141.3 L746.56 1139.9 L748.6 1124.15 L749.24 1108.62 L750.64 1090.02 L751.6 1084.89 L752.69 1083.89 L753.95 1084.89 L754.73 1110.14 L756.31 1122.75 L757.94 1144.27" stroke="#000000" stroke-width="1.25"/>
<path d="M328.04 1143.83 L329.21 1129.83 L330.67 1157.84 L331.29 1151.68 L332.71 1125.9 L333.64 1129.68 L334.75 1118.02 L335.92 1090.02 L337.38 1120.28 L338.54 1139.96 L339.53 1129.08 L340.59 1128.08 L341.88 1129.08 L342.63 1134.2 L344.67 1120.21 L345.42 1133.56 L346.71 1128.95 L347.77 1135.42 L348.75 1120.21 L350.13 1121.21 L350.8 1122.91 L352.55 1139.9 L353.66 1140.9 L354.59 1148.21 L356.01 1126.64 L356.63 1121.96 L358.67 1135.96 L359.54 1137.52 L360.71 1124.15 L361.9 1133.29 L362.75 1127.21 L364.8 1140.3 L365.43 1133.85 L366.55 1132.02 L367.79 1133.02 L368.59 1137.19 L370.63 1125.9 L371.32 1138.86 L372.67 1136.57 L373.67 1134.11 L374.71 1131.19 L376.03 1135.71 L376.76 1120.21 L378.8 1134.22 L379.56 1125.15 L380.55 1124.01 L381.91 1121.21 L382.59 1120.21 L384.63 1137.71 L385.45 1136.59 L386.67 1128.08 L387.8 1141.71 L388.72 1139.83 L390.15 1136.22 L390.76 1120.21 L392.8 1135.89 L393.69 1139.12 L394.55 1142.33 L396.59 1134.21 L397.22 1141.04 L398.63 1140.59 L399.57 1147.98 L400.67 1141.04 L401.93 1144.44 L402.72 1138 L404.76 1131.67 L405.46 1125.15 L406.8 1124.15 L407.81 1129.24 L408.55 1135.85 L410.59 1142.26 L411.35 1143.19 L412.63 1134.21 L413.7 1148.52 L414.68 1138.38 L416.06 1146.74 L416.72 1146.31 L418.76 1135.96 L419.59 1136.96 L420.8 1140.1 L421.94 1142.93 L422.55 1148.85 L424.59 1139.9 L425.47 1137.33 L426.64 1135.96 L427.83 1148 L428.68 1149.96 L430.72 1152.15 L431.36 1146.21 L432.76 1142.08 L433.72 1143.08 L434.8 1146.02 L436.55 1149.99 L437.25 1150.55 L438.6 1139.9 L439.6 1145.39 L440.64 1144.15 L441.96 1142.8 L442.68 1139.9 L444.72 1143.97 L445.49 1144.83 L446.76 1143.79 L447.84 1140.9 L448.8 1141.63 L450.55 1132.02 L451.38 1138.73 L452.6 1135.88 L453.73 1140.85 L454.64 1128.08 L456.68 1133.88 L458.72 1125.9 L459.62 1129.76 L460.76 1135.95 L461.97 1136.96 L462.81 1139.87 L464.56 1125.35 L465.5 1120.61 L466.6 1111.52 L468.06 1106.21 L469.22 1125.28 L470.21 1127.9 L471.26 1105.72 L472.57 1122.84 L473.31 1109.39 L474.77 1093.95 L475.93 1104.15 L477.39 1125.34 L478.45 1126.9 L479.43 1133.19 L480.81 1133.02 L481.47 1138.3 L483.22 1145.59 L484.34 1145.64 L485.27 1142.12 L486.7 1140 L487.31 1132.02 L489.35 1139.92 L490.23 1140.9 L491.39 1147 L492.58 1140.9 L493.43 1139.9 L495.48 1147.99 L496.11 1148.71 L497.23 1142.75 L498.47 1139.29 L499.27 1129.83 L501.31 1135.39 L502 1125.76 L503.35 1120.21 L504.36 1121.21 L505.39 1125.9 L506.71 1127.95 L507.43 1135.96 L509.48 1110.14 L510.24 1113.11 L511.23 1120.21 L512.6 1140.27 L513.27 1142.08 L515.31 1135.96 L516.13 1136.96 L517.35 1143.38 L518.48 1133.02 L519.39 1132.02 L521.44 1137.55 L523.48 1132.02 L524.37 1141.39 L525.23 1136.73 L527.27 1140.25 L527.9 1135.21 L529.31 1133.96 L530.26 1131.78 L531.35 1128.37 L532.61 1121.21 L533.4 1120.21 L535.44 1134.98 L536.14 1141.48 L537.19 1134.51 L538.5 1147.98 L539.23 1146.11 L541.27 1143.65 L542.44 1139.9 L543.21 1148.25 L544.13 1135.96 L545.29 1100.08 L546.75 1110.14 L547.92 1130.62 L548.79 1129.78 L550.54 1134.66 L551.45 1121.21 L552.58 1119.55 L553.8 1108.96 L554.63 1107.96 L556.08 1117.88 L557.25 1135.38 L558.51 1129.08 L559.29 1128.08 L561.34 1136.81 L562.05 1142.04 L563.38 1133.06 L564.4 1130.45 L565.42 1116.82 L566.59 1111.89 L568.04 1124.15 L569.21 1143.83 L570.29 1144.83 L571.25 1148.21 L572.64 1136.96 L573.29 1136.06 L575.34 1120.21 L576.17 1125.84 L577.38 1129.72 L578.53 1142 L579.42 1144.01 L581.46 1139.9 L583.21 1146.64 L584.41 1136.96 L585.25 1135.96 L587.3 1143.72 L587.95 1146.79 L589.34 1130.63 L590.3 1141.16 L591.38 1125.9 L592.66 1140.66 L593.42 1139.42 L595.46 1136.69 L596.19 1129.08 L597.21 1128.08 L598.54 1129.08 L599.26 1138.47 L601.3 1141.03 L602.07 1143.08 L603.34 1147.37 L604.43 1147.21 L605.38 1138.15 L606.78 1145.91 L607.42 1143.84 L609.46 1139.9 L610.32 1140.9 L611.21 1143.01 L613.26 1135.51 L615.3 1135.39 L616.2 1137.01 L617.34 1125.9 L618.56 1137.61 L619.38 1136.13 L621.42 1145.37 L622.09 1140.9 L623.47 1140.39 L624.44 1135.21 L625.22 1134.57 L627.26 1129.83 L627.98 1138.33 L629.3 1143.83 L630.76 1153.9 L631.51 1144.44 L632.8 1139.9 L633.86 1136.96 L634.55 1135.96 L636.59 1146.02 L637.39 1147.88 L638.63 1139.9 L639.75 1132.2 L640.68 1118.02 L642.1 1121.72 L642.72 1111.89 L644.76 1139.9 L645.64 1140.9 L646.8 1146.02 L647.97 1139.9 L649.43 1143.83 L650.35 1128.82 L651.47 1120.21 L653.22 1125.9 L653.88 1131.95 L655.26 1135.44 L656.23 1131.94 L657.3 1121.64 L658.59 1113.97 L659.34 1111.58 L661.39 1097.43 L662.55 1068.75 L663.14 1039.26 L664.59 1089.28 L666.05 1120.42 L666.83 1111.14 L668.1 1110.14 L669.26 1110.14 L670.36 1132.31 L671.3 1125.9 L672.71 1143.25 L673.35 1139.9 L675.39 1156.09 L676.25 1144.23 L677.43 1135.96 L678.6 1130.83 L679.47 1129.83 L681.22 1152.15 L682.13 1149.27 L683.26 1139.9 L684.49 1136.02 L685.31 1132.02 L687.35 1144.13 L688.02 1136.97 L689.39 1136.05 L690.37 1125.15 L691.43 1124.15 L692.73 1128.17 L693.47 1135.83 L695.22 1137.57 L696.26 1141.64 L697.26 1135.12 L698.62 1141.53 L699.31 1129.83 L701.35 1137.2 L702.15 1126.9 L703.39 1123.12 L704.5 1121.21 L705.43 1120.21 L706.86 1121.21 L707.47 1125.9 L709.22 1115.83 L710.39 1139.53 L711.27 1139.9 L713.31 1132.02 L713.92 1111.91 L715.35 1100.08 L716.81 1106.21 L717.97 1156.09 L718.63 1144.83 L720.02 1128.08 L720.99 1111.14 L722.06 1110.14 L723.34 1091.02 L724.1 1092.87 L725.85 1052.39 L726.73 1090.02 L728.05 1106.82 L728.77 1135.96 L729.93 1125.9 L731.98 1106.21 L732.76 1107.21 L733.43 1120.19 L735.48 1139.86 L736.29 1143.13 L737.23 1143.8 L738.65 1148.15 L739.27 1146.51 L741.31 1135.96 L742.18 1136.96 L743.35 1139.21 L744.53 1140.9 L745.39 1143.83 L747.44 1146.02 L748.06 1146.51 L749.48 1129.83 L750.42 1127.45 L751.23 1120.21 L753.27 1143.83 L753.95 1140.9 L754.73 1139.9 L756.31 1140.9 L757.94 1144.89" stroke="#ff0000" stroke-width="1.25"/>
<path d="M328.04 1107.96 L329.21 1125.9 L330.67 1139.9 L331.29 1138.64 L332.13 1118.02 L333.88 1129.83 L334.82 1122.96 L335.92 1121.96 L337.17 1128.01 L337.96 1136.09 L340 1113.88 L340.71 1113.16 L341.46 1087.83 L342.63 1118.02 L344.67 1143.83 L345.42 1137.66 L346.71 1111.89 L347.77 1119.3 L348.75 1096.14 L349.92 1118.02 L351.3 1128.81 L351.96 1139.9 L354 1125.9 L354.83 1129.25 L356.05 1115.83 L357.19 1132.35 L358.09 1129.23 L360.13 1120.21 L361.88 1128.75 L363.08 1116.83 L363.92 1114.4 L365.96 1106.21 L366.61 1112.3 L368.01 1114.08 L368.96 1126.29 L370.05 1129.83 L371.32 1146.2 L372.09 1146.02 L374.13 1120.21 L375.3 1111.89 L376.03 1125.58 L377.34 1099.78 L378.38 1098 L379.38 1073.28 L380.55 1083.89 L381.91 1084.89 L382.59 1097.23 L384.63 1083.36 L385.45 1097.52 L386.09 1065.95 L387.26 1082.81 L388.72 1108.62 L389.88 1127.05 L391.92 1135.5 L393.97 1120.21 L394.86 1134.83 L396.01 1135.96 L397.22 1123.06 L398.05 1090.02 L399.22 1079.95 L400.67 1120.21 L401.93 1117.36 L402.72 1083.89 L403.88 1096.14 L405.34 1119.31 L406.64 1131.06 L407.38 1130.48 L409.43 1127.21 L410.17 1125.15 L411.47 1124.15 L412.52 1125.15 L413.22 1131.99 L415.26 1130.2 L416.06 1137.14 L417.3 1119.56 L418.41 1118.24 L419.34 1100.08 L420.77 1122.55 L421.39 1108.74 L423.43 1120.21 L424.3 1121.21 L425.47 1138.15 L427.22 1106.21 L427.83 1122.9 L429.26 1111.89 L430.18 1124.07 L431.3 1131.46 L432.54 1131.11 L433.34 1120.21 L434.8 1137.4 L435.97 1120.21 L437.43 1129.83 L438.6 1146.02 L440.05 1153.9 L440.78 1139.17 L442.1 1120.21 L443.26 1114.08 L444.72 1129.75 L445.89 1139.86 L446.67 1133.01 L447.35 1120.15 L448.8 1104.02 L449.97 1124.26 L451.43 1139.91 L452.6 1120.11 L453.73 1124.45 L454.64 1100.09 L456.1 1072.08 L457.26 1100.08 L458.72 1143.83 L459.89 1083.89 L461.35 1120.21 L461.97 1123.98 L462.81 1146.02 L464.56 1129.83 L465.5 1128 L466.6 1120.21 L467.86 1142.53 L468.64 1148.21 L470.68 1129.83 L471.39 1130.83 L472.72 1139.9 L473.75 1122.75 L474.77 1120.21 L476.1 1121.21 L476.81 1129.83 L478.56 1149.96 L479.63 1139.47 L480.6 1120.21 L482.06 1111.89 L483.16 1070.04 L484.68 1045.83 L485.52 1057.86 L486.14 1079.95 L487.31 1120.21 L489.35 1110.14 L490.23 1111.14 L491.39 1135.96 L492.58 1111.14 L493.43 1110.14 L495.48 1129.83 L496.11 1132.29 L497.23 1104.02 L498.47 1133.89 L499.27 1120.21 L501.31 1139.9 L502 1140.9 L503.35 1152.15 L504.36 1132.6 L505.39 1120.21 L506.71 1124.6 L507.43 1139.9 L509.48 1110.14 L510.24 1136.31 L511.23 1149.96 L512.6 1125.51 L513.27 1100.08 L514.73 1079.95 L516.19 1048.01 L517.35 1100.08 L518.48 1113.35 L519.39 1139.9 L521.44 1153.9 L523.48 1125.9 L524.37 1127.27 L525.23 1100.08 L527.27 1120.21 L527.9 1126.12 L529.31 1152.15 L530.26 1134.15 L531.35 1120.21 L532.61 1101.08 L533.4 1100.08 L535.44 1124.55 L536.14 1128.22 L537.19 1111.89 L538.5 1120.31 L539.23 1117.29 L541.27 1131.25 L542.03 1130.83 L543.21 1135.85 L544.13 1135.97 L545.29 1125.57 L547.33 1100.08 L548.79 1118.02 L550.54 1097.89 L552 1134.21 L552.63 1136.18 L554.04 1115.83 L554.98 1136.74 L556.08 1139.9 L557.34 1139.15 L558.13 1124.15 L559.88 1110.34 L561.34 1093.95 L562.05 1109.7 L563.38 1110.14 L564.54 1120.21 L566 1079.95 L567.17 1034.89 L567.93 1035.89 L568.63 1079.95 L570.09 1143.83 L571.46 1140.07 L572.13 1129.83 L573.88 1117.1 L575 1107.21 L575.92 1106.21 L577.35 1109.52 L577.96 1126.77 L580 1114.77 L581.46 1099.23 L582.63 1076.02 L583.24 1105.34 L584.09 1110.14 L585.25 1152.15 L587.3 1129.83 L587.95 1131.62 L588.75 1110.14 L590.8 1096.14 L591.96 1109.91 L592.66 1129.41 L594 1132.64 L595.01 1134.49 L596.05 1138.15 L597.37 1136.85 L598.09 1120.21 L599.26 1079.95 L601.01 1048.01 L601.88 1090.02 L603.34 1132.02 L604.43 1127.99 L605.38 1115.83 L606.78 1142.83 L607.42 1149.96 L609.46 1120.21 L610.63 1106.21 L611.49 1125.32 L612.67 1126.24 L613.85 1127.9 L614.72 1111.89 L616.76 1121.96 L617.38 1110.61 L618.8 1100.08 L619.73 1113.35 L620.55 1138.15 L622.59 1120.21 L623.27 1140.44 L624.05 1143.83 L626.09 1149.96 L626.8 1136.98 L628.13 1120.21 L629.3 1096.14 L630.33 1104.38 L631.34 1109.89 L632.69 1122.96 L633.38 1120.21 L634.55 1139.9 L636.01 1156.09 L637.39 1147.48 L638.05 1139.9 L640.09 1129.83 L640.93 1123.45 L642.13 1120.21 L643.28 1121.21 L643.88 1124.52 L645.93 1115.83 L646.81 1123.76 L647.97 1129.2 L649.17 1136.61 L650.01 1120.93 L651.47 1107.96 L652.64 1125.9 L654.09 1143.83 L655.26 1153.9 L656.23 1136.33 L657.3 1110.14 L658.76 1093.95 L659.93 1110.14 L661.39 1129.83 L662.55 1148.21 L663.3 1146.11 L664.59 1124.15 L665.65 1127.94 L666.64 1120.21 L668.01 1141.35 L668.68 1139.94 L670.72 1143.78 L671.54 1136.96 L672.76 1135.96 L673.89 1137.2 L674.8 1141.97 L676.55 1136.3 L677.42 1147.23 L678.6 1132.02 L679.78 1139.37 L680.64 1139.91 L682.68 1120.06 L683.31 1101.08 L684.14 1100.08 L685.31 1121.1 L686.76 1135.96 L688.02 1126.9 L688.81 1125.9 L690.56 1143.83 L691.55 1140.17 L692.6 1132.02 L693.91 1146.22 L694.64 1148.21 L696.1 1153.9 L697.44 1130.83 L698.14 1129.83 L699.89 1120.21 L700.97 1141.18 L701.93 1143.83 L703.33 1129.72 L703.97 1110.14 L705.43 1079.95 L706.6 1065.95 L708.06 1077.87 L709.22 1100.81 L710.39 1121.42 L711.27 1096.14 L713.31 1110.14 L713.92 1111.14 L715.35 1139.9 L716.28 1121.66 L717.39 1120.21 L718.56 1139.9 L720.02 1148.21 L721.48 1120.21 L722.16 1126.3 L723.23 1110.14 L724.52 1121.64 L725.27 1120.22 L727.31 1139.94 L728.05 1133.02 L729.35 1132.02 L730.4 1134.91 L731.39 1136.98 L732.76 1133.02 L733.43 1130.75 L735.48 1121.24 L736.29 1126.49 L737.23 1103.96 L738.65 1106.4 L739.27 1100.08 L741.31 1109.81 L742.18 1101.08 L743.35 1098.67 L744.81 1084.58 L746.27 1056.76 L747.44 1079.95 L748.6 1120.21 L749.24 1111.14 L750.64 1110.14 L751.6 1097.14 L752.69 1093.37 L753.95 1091.02 L754.73 1086.09 L756.31 1062.14 L757.65 1061.14" stroke="#0000ff" stroke-width="1.25"/>
<path d="M311.33 910.8 L774.27 910.8 L774.27 1174.4 L311.33 1174.4 Z M328.93 1174.4 L328.93 1181.2 M365.43 1174.4 L365.43 1181.2 M398.4 1174.4 L398.4 1181.2 M434.89 1174.4 L434.89 1181.2 M470.21 1174.4 L470.21 1181.2 M506.71 1174.4 L506.71 1181.2 M542.03 1174.4 L542.03 1181.2 M578.53 1174.4 L578.53 1181.2 M615.03 1174.4 L615.03 1181.2 M650.35 1174.4 L650.35 1181.2 M686.84 1174.4 L686.84 1181.2 M722.16 1174.4 L722.16 1181.2 M311.33 1164.6 L303.07 1164.6 M311.33 1115.68 L303.07 1115.68 M311.33 1066.76 L303.07 1066.76 M311.33 1017.84 L303.07 1017.84 M311.33 968.92 L303.07 968.92 M311.33 920 L303.07 920" stroke="#000" stroke-width="1.0" stroke-linecap="butt" stroke-linejoin="miter"/>
<path d="M64.27 53 L224.8 53 L224.8 114.2 L64.27 114.2 Z" fill="#fff" stroke="#000" stroke-width="1.0" stroke-linejoin="miter"/>
<path d="M78.53 69 L108.67 69" stroke="#000000" stroke-width="1.5" stroke-linecap="butt"/>
<path d="M78.53 83 L108.67 83" stroke="#ff0000" stroke-width="1.5" stroke-linecap="butt"/>
<path d="M78.53 98.8 L108.67 98.8" stroke="#0000ff" stroke-width="1.5" stroke-linecap="butt"/>
</g>
</g>
<g fill="#333333" filter="url(#bl)">
<text font-size="6.3" text-anchor="middle" transform="translate(40.7 164.75) scale(1.55 1)">Jan</text>
<text font-size="6.3" text-anchor="middle" transform="translate(68.07 164.75) scale(1.55 1)">Feb</text>
<text font-size="6.3" text-anchor="middle" transform="translate(92.8 164.75) scale(1.55 1)">Mar</text>
<text font-size="6.3" text-anchor="middle" transform="translate(120.17 164.75) scale(1.55 1)">Apr</text>
<text font-size="6.3" text-anchor="middle" transform="translate(146.66 164.75) scale(1.55 1)">May</text>
<text font-size="6.3" text-anchor="middle" transform="translate(174.03 164.75) scale(1.55 1)">Jun</text>
<text font-size="6.3" text-anchor="middle" transform="translate(200.52 164.75) scale(1.55 1)">Jul</text>
<text font-size="6.3" text-anchor="middle" transform="translate(227.9 164.75) scale(1.55 1)">Aug</text>
<text font-size="6.3" text-anchor="middle" transform="translate(255.27 164.75) scale(1.55 1)">Sep</text>
<text font-size="6.3" text-anchor="middle" transform="translate(281.76 164.75) scale(1.55 1)">Oct</text>
<text font-size="6.3" text-anchor="middle" transform="translate(309.13 164.75) scale(1.55 1)">Nov</text>
<text font-size="6.3" text-anchor="middle" transform="translate(335.62 164.75) scale(1.55 1)">Dec</text>
<text font-size="6.6" text-anchor="middle" transform="translate(13.1 148.3) scale(1.55 1) rotate(-90)">0</text>
<text font-size="6.6" text-anchor="middle" transform="translate(13.1 117.73) scale(1.55 1) rotate(-90)">5</text>
<text font-size="6.6" text-anchor="middle" transform="translate(13.1 87.15) scale(1.55 1) rotate(-90)">10</text>
<text font-size="6.6" text-anchor="middle" transform="translate(13.1 56.58) scale(1.55 1) rotate(-90)">15</text>
<text font-size="6.6" text-anchor="middle" transform="translate(13.1 26) scale(1.55 1) rotate(-90)">20</text>
<text font-size="6.3" text-anchor="middle" transform="translate(201.1 177.7) scale(1.55 1)">Time</text>
<text font-size="7.6" font-weight="bold" fill="#111" text-anchor="middle" transform="translate(201.1 11.2) scale(1.55 1)">Sulfate</text>
<text font-size="6.3" text-anchor="middle" transform="translate(458.7 164.75) scale(1.55 1)">Jan</text>
<text font-size="6.3" text-anchor="middle" transform="translate(486.07 164.75) scale(1.55 1)">Feb</text>
<text font-size="6.3" text-anchor="middle" transform="translate(510.8 164.75) scale(1.55 1)">Mar</text>
<text font-size="6.3" text-anchor="middle" transform="translate(538.17 164.75) scale(1.55 1)">Apr</text>
<text font-size="6.3" text-anchor="middle" transform="translate(564.66 164.75) scale(1.55 1)">May</text>
<text font-size="6.3" text-anchor="middle" transform="translate(592.03 164.75) scale(1.55 1)">Jun</text>
<text font-size="6.3" text-anchor="middle" transform="translate(618.52 164.75) scale(1.55 1)">Jul</text>
<text font-size="6.3" text-anchor="middle" transform="translate(645.9 164.75) scale(1.55 1)">Aug</text>
<text font-size="6.3" text-anchor="middle" transform="translate(673.27 164.75) scale(1.55 1)">Sep</text>
<text font-size="6.3" text-anchor="middle" transform="translate(699.76 164.75) scale(1.55 1)">Oct</text>
<text font-size="6.3" text-anchor="middle" transform="translate(727.13 164.75) scale(1.55 1)">Nov</text>
<text font-size="6.3" text-anchor="middle" transform="translate(753.62 164.75) scale(1.55 1)">Dec</text>
<text font-size="6.6" text-anchor="middle" transform="translate(431.1 148.3) scale(1.55 1) rotate(-90)">0</text>
<text font-size="6.6" text-anchor="middle" transform="translate(431.1 117.73) scale(1.55 1) rotate(-90)">5</text>
<text font-size="6.6" text-anchor="middle" transform="translate(431.1 87.15) scale(1.55 1) rotate(-90)">10</text>
<text font-size="6.6" text-anchor="middle" transform="translate(431.1 56.58) scale(1.55 1) rotate(-90)">15</text>
<text font-size="6.6" text-anchor="middle" transform="translate(431.1 26) scale(1.55 1) rotate(-90)">20</text>
<text font-size="6.3" text-anchor="middle" transform="translate(619.1 177.7) scale(1.55 1)">Time</text>
<text font-size="7.6" font-weight="bold" fill="#111" text-anchor="middle" transform="translate(619.1 11.2) scale(1.55 1)">Nitrate</text>
<text font-size="6.3" text-anchor="middle" transform="translate(40.7 381.65) scale(1.55 1)">Jan</text>
<text font-size="6.3" text-anchor="middle" transform="translate(68.07 381.65) scale(1.55 1)">Feb</text>
<text font-size="6.3" text-anchor="middle" transform="translate(92.8 381.65) scale(1.55 1)">Mar</text>
<text font-size="6.3" text-anchor="middle" transform="translate(120.17 381.65) scale(1.55 1)">Apr</text>
<text font-size="6.3" text-anchor="middle" transform="translate(146.66 381.65) scale(1.55 1)">May</text>
<text font-size="6.3" text-anchor="middle" transform="translate(174.03 381.65) scale(1.55 1)">Jun</text>
<text font-size="6.3" text-anchor="middle" transform="translate(200.52 381.65) scale(1.55 1)">Jul</text>
<text font-size="6.3" text-anchor="middle" transform="translate(227.9 381.65) scale(1.55 1)">Aug</text>
<text font-size="6.3" text-anchor="middle" transform="translate(255.27 381.65) scale(1.55 1)">Sep</text>
<text font-size="6.3" text-anchor="middle" transform="translate(281.76 381.65) scale(1.55 1)">Oct</text>
<text font-size="6.3" text-anchor="middle" transform="translate(309.13 381.65) scale(1.55 1)">Nov</text>
<text font-size="6.3" text-anchor="middle" transform="translate(335.62 381.65) scale(1.55 1)">Dec</text>
<text font-size="6.6" text-anchor="middle" transform="translate(13.1 365.2) scale(1.55 1) rotate(-90)">0</text>
<text font-size="6.6" text-anchor="middle" transform="translate(13.1 340.82) scale(1.55 1) rotate(-90)">2</text>
<text font-size="6.6" text-anchor="middle" transform="translate(13.1 316.44) scale(1.55 1) rotate(-90)">4</text>
<text font-size="6.6" text-anchor="middle" transform="translate(13.1 292.06) scale(1.55 1) rotate(-90)">6</text>
<text font-size="6.6" text-anchor="middle" transform="translate(13.1 267.68) scale(1.55 1) rotate(-90)">8</text>
<text font-size="6.6" text-anchor="middle" transform="translate(13.1 243.3) scale(1.55 1) rotate(-90)">10</text>
<text font-size="6.3" text-anchor="middle" transform="translate(201.1 394.6) scale(1.55 1)">Time</text>
<text font-size="7.6" font-weight="bold" fill="#111" text-anchor="middle" transform="translate(201.1 228.1) scale(1.55 1)">Ammonium</text>
<text font-size="6.3" text-anchor="middle" transform="translate(458.7 381.65) scale(1.55 1)">Jan</text>
<text font-size="6.3" text-anchor="middle" transform="translate(486.07 381.65) scale(1.55 1)">Feb</text>
<text font-size="6.3" text-anchor="middle" transform="translate(510.8 381.65) scale(1.55 1)">Mar</text>
<text font-size="6.3" text-anchor="middle" transform="translate(538.17 381.65) scale(1.55 1)">Apr</text>
<text font-size="6.3" text-anchor="middle" transform="translate(564.66 381.65) scale(1.55 1)">May</text>
<text font-size="6.3" text-anchor="middle" transform="translate(592.03 381.65) scale(1.55 1)">Jun</text>
<text font-size="6.3" text-anchor="middle" transform="translate(618.52 381.65) scale(1.55 1)">Jul</text>
<text font-size="6.3" text-anchor="middle" transform="translate(645.9 381.65) scale(1.55 1)">Aug</text>
<text font-size="6.3" text-anchor="middle" transform="translate(673.27 381.65) scale(1.55 1)">Sep</text>
<text font-size="6.3" text-anchor="middle" transform="translate(699.76 381.65) scale(1.55 1)">Oct</text>
<text font-size="6.3" text-anchor="middle" transform="translate(727.13 381.65) scale(1.55 1)">Nov</text>
<text font-size="6.3" text-anchor="middle" transform="translate(753.62 381.65) scale(1.55 1)">Dec</text>
<text font-size="6.6" text-anchor="middle" transform="translate(431.1 365.3) scale(1.55 1) rotate(-90)">0</text>
<text font-size="6.6" text-anchor="middle" transform="translate(431.1 346.32) scale(1.55 1) rotate(-90)">5</text>
<text font-size="6.6" text-anchor="middle" transform="translate(431.1 327.35) scale(1.55 1) rotate(-90)">10</text>
<text font-size="6.6" text-anchor="middle" transform="translate(431.1 308.38) scale(1.55 1) rotate(-90)">15</text>
<text font-size="6.6" text-anchor="middle" transform="translate(431.1 289.4) scale(1.55 1) rotate(-90)">20</text>
<text font-size="6.6" text-anchor="middle" transform="translate(431.1 270.43) scale(1.55 1) rotate(-90)">25</text>
<text font-size="6.6" text-anchor="middle" transform="translate(431.1 251.45) scale(1.55 1) rotate(-90)">30</text>
<text font-size="6.3" text-anchor="middle" transform="translate(619.1 394.6) scale(1.55 1)">Time</text>
<text font-size="7.6" font-weight="bold" fill="#111" text-anchor="middle" transform="translate(619.1 228.1) scale(1.55 1)">TCM</text>
<text font-size="6.3" text-anchor="middle" transform="translate(246.7 598.65) scale(1.55 1)">Jan</text>
<text font-size="6.3" text-anchor="middle" transform="translate(274.07 598.65) scale(1.55 1)">Feb</text>
<text font-size="6.3" text-anchor="middle" transform="translate(298.8 598.65) scale(1.55 1)">Mar</text>
<text font-size="6.3" text-anchor="middle" transform="translate(326.17 598.65) scale(1.55 1)">Apr</text>
<text font-size="6.3" text-anchor="middle" transform="translate(352.66 598.65) scale(1.55 1)">May</text>
<text font-size="6.3" text-anchor="middle" transform="translate(380.03 598.65) scale(1.55 1)">Jun</text>
<text font-size="6.3" text-anchor="middle" transform="translate(406.52 598.65) scale(1.55 1)">Jul</text>
<text font-size="6.3" text-anchor="middle" transform="translate(433.9 598.65) scale(1.55 1)">Aug</text>
<text font-size="6.3" text-anchor="middle" transform="translate(461.27 598.65) scale(1.55 1)">Sep</text>
<text font-size="6.3" text-anchor="middle" transform="translate(487.76 598.65) scale(1.55 1)">Oct</text>
<text font-size="6.3" text-anchor="middle" transform="translate(515.13 598.65) scale(1.55 1)">Nov</text>
<text font-size="6.3" text-anchor="middle" transform="translate(541.62 598.65) scale(1.55 1)">Dec</text>
<text font-size="6.6" text-anchor="middle" transform="translate(219.1 582.3) scale(1.55 1) rotate(-90)">0</text>
<text font-size="6.6" text-anchor="middle" transform="translate(219.1 557.84) scale(1.55 1) rotate(-90)">2</text>
<text font-size="6.6" text-anchor="middle" transform="translate(219.1 533.38) scale(1.55 1) rotate(-90)">4</text>
<text font-size="6.6" text-anchor="middle" transform="translate(219.1 508.92) scale(1.55 1) rotate(-90)">6</text>
<text font-size="6.6" text-anchor="middle" transform="translate(219.1 484.46) scale(1.55 1) rotate(-90)">8</text>
<text font-size="6.6" text-anchor="middle" transform="translate(219.1 460) scale(1.55 1) rotate(-90)">10</text>
<text font-size="6.3" text-anchor="middle" transform="translate(407.1 611.6) scale(1.55 1)">Time</text>
<text font-size="7.6" font-weight="bold" fill="#111" text-anchor="middle" transform="translate(407.1 445.1) scale(1.55 1)">Crustal</text>
<text x="92.8" y="36.8" font-size="6.4" textLength="63.1" lengthAdjust="spacingAndGlyphs">Los Angeles</text>
<text x="92.8" y="44.1" font-size="6.4" textLength="40.8" lengthAdjust="spacingAndGlyphs">Phoenix</text>
<text x="92.8" y="51.75" font-size="6.4" textLength="72.9" lengthAdjust="spacingAndGlyphs">New York City</text>
</g>
</svg></body></html>
